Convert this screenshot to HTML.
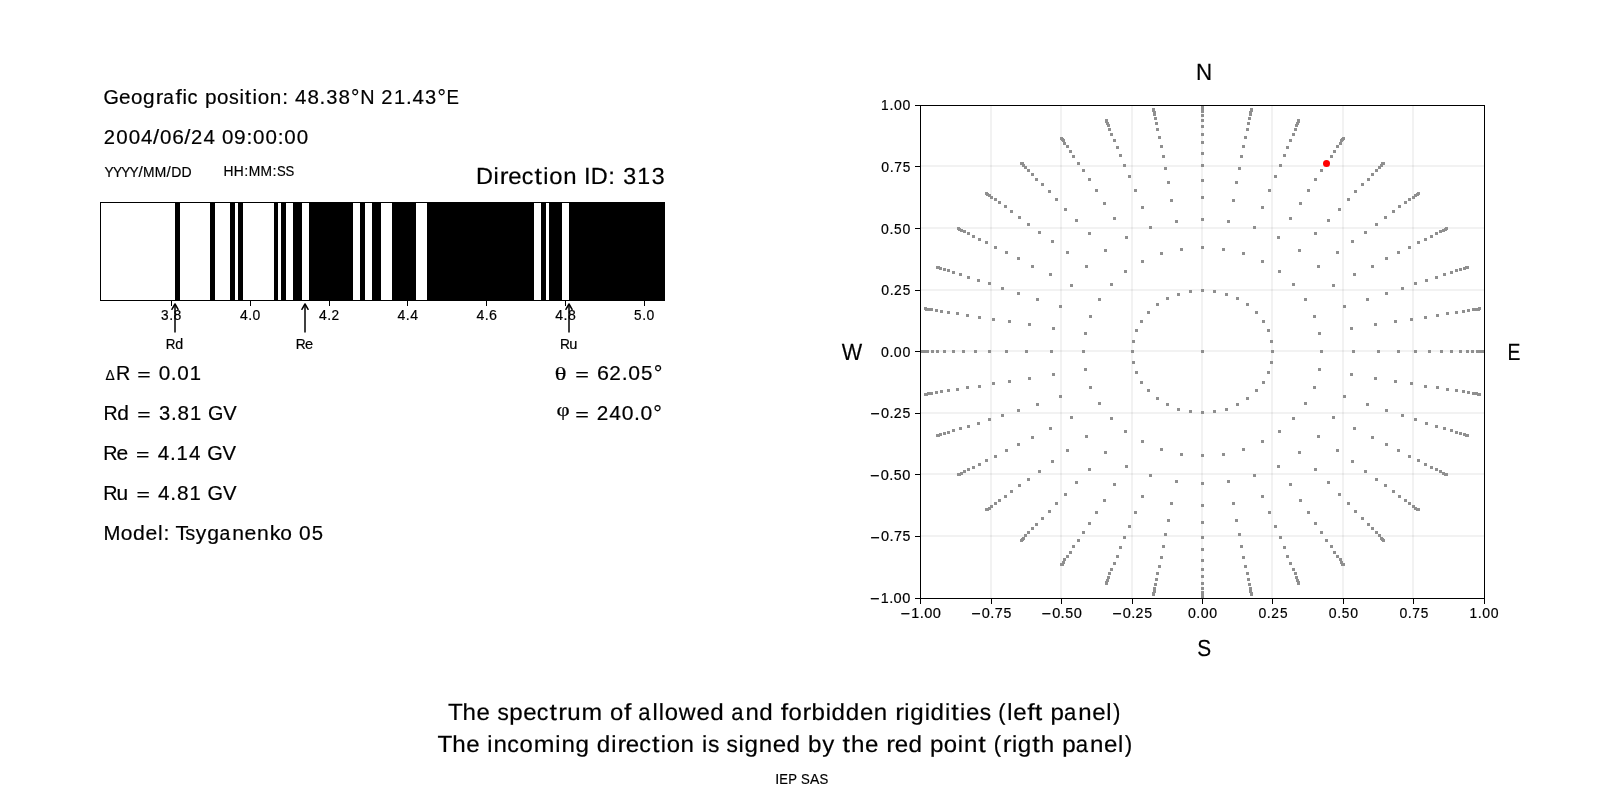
<!DOCTYPE html><html><head><meta charset="utf-8"><style>html,body{margin:0;padding:0;background:#fff;}svg{display:block;}text{font-kerning:none;}</style></head><body>
<svg width="1600" height="800" viewBox="0 0 1600 800">
<rect x="0" y="0" width="1600" height="800" fill="#fff"/>
<rect x="175" y="202" width="5" height="99" fill="#000"/>
<rect x="210" y="202" width="5" height="99" fill="#000"/>
<rect x="230" y="202" width="5" height="99" fill="#000"/>
<rect x="238" y="202" width="5" height="99" fill="#000"/>
<rect x="274" y="202" width="4" height="99" fill="#000"/>
<rect x="281" y="202" width="5" height="99" fill="#000"/>
<rect x="293" y="202" width="9" height="99" fill="#000"/>
<rect x="309" y="202" width="44" height="99" fill="#000"/>
<rect x="360" y="202" width="5" height="99" fill="#000"/>
<rect x="372" y="202" width="9" height="99" fill="#000"/>
<rect x="392" y="202" width="24" height="99" fill="#000"/>
<rect x="427" y="202" width="107" height="99" fill="#000"/>
<rect x="541" y="202" width="5" height="99" fill="#000"/>
<rect x="549" y="202" width="13" height="99" fill="#000"/>
<rect x="569" y="202" width="96" height="99" fill="#000"/>
<rect x="100" y="202" width="565" height="1" fill="#000"/>
<rect x="100" y="300" width="565" height="1" fill="#000"/>
<rect x="100" y="202" width="1" height="99" fill="#000"/>
<rect x="664" y="202" width="1" height="99" fill="#000"/>
<rect x="171" y="301" width="1" height="5" fill="#000"/>
<rect x="250" y="301" width="1" height="5" fill="#000"/>
<rect x="329" y="301" width="1" height="5" fill="#000"/>
<rect x="407" y="301" width="1" height="5" fill="#000"/>
<rect x="486" y="301" width="1" height="5" fill="#000"/>
<rect x="565" y="301" width="1" height="5" fill="#000"/>
<rect x="644" y="301" width="1" height="5" fill="#000"/>
<line x1="175.0" y1="305" x2="175.0" y2="332.5" stroke="#000" stroke-width="1.5"/>
<polyline points="171.90,309.3 175.00,304.0 178.10,309.3" fill="none" stroke="#000" stroke-width="1.5" stroke-linecap="round" stroke-linejoin="round"/>
<line x1="305.0" y1="305" x2="305.0" y2="332.5" stroke="#000" stroke-width="1.5"/>
<polyline points="301.90,309.3 305.00,304.0 308.10,309.3" fill="none" stroke="#000" stroke-width="1.5" stroke-linecap="round" stroke-linejoin="round"/>
<line x1="569.0" y1="305" x2="569.0" y2="332.5" stroke="#000" stroke-width="1.5"/>
<polyline points="565.90,309.3 569.00,304.0 572.10,309.3" fill="none" stroke="#000" stroke-width="1.5" stroke-linecap="round" stroke-linejoin="round"/>
<rect x="990" y="106" width="2" height="492" fill="#000" fill-opacity="0.052"/>
<rect x="921" y="535" width="563" height="2" fill="#000" fill-opacity="0.052"/>
<rect x="1060" y="106" width="2" height="492" fill="#000" fill-opacity="0.052"/>
<rect x="921" y="473" width="563" height="2" fill="#000" fill-opacity="0.052"/>
<rect x="1131" y="106" width="2" height="492" fill="#000" fill-opacity="0.052"/>
<rect x="921" y="412" width="563" height="2" fill="#000" fill-opacity="0.052"/>
<rect x="1201" y="106" width="2" height="492" fill="#000" fill-opacity="0.052"/>
<rect x="921" y="350" width="563" height="2" fill="#000" fill-opacity="0.052"/>
<rect x="1271" y="106" width="2" height="492" fill="#000" fill-opacity="0.052"/>
<rect x="921" y="289" width="563" height="2" fill="#000" fill-opacity="0.052"/>
<rect x="1342" y="106" width="2" height="492" fill="#000" fill-opacity="0.052"/>
<rect x="921" y="227" width="563" height="2" fill="#000" fill-opacity="0.052"/>
<rect x="1412" y="106" width="2" height="492" fill="#000" fill-opacity="0.052"/>
<rect x="921" y="165" width="563" height="2" fill="#000" fill-opacity="0.052"/>
<defs><clipPath id="axclip"><rect x="920" y="105" width="565" height="494"/></clipPath></defs><g clip-path="url(#axclip)">
<rect x="1201" y="350" width="3" height="3" fill="#8f8f8f"/>
<rect x="1271" y="350" width="3" height="3" fill="#8f8f8f"/>
<rect x="1270" y="340" width="3" height="3" fill="#8f8f8f"/>
<rect x="1267" y="329" width="3" height="3" fill="#8f8f8f"/>
<rect x="1262" y="320" width="3" height="3" fill="#8f8f8f"/>
<rect x="1255" y="311" width="3" height="3" fill="#8f8f8f"/>
<rect x="1246" y="303" width="3" height="3" fill="#8f8f8f"/>
<rect x="1236" y="297" width="3" height="3" fill="#8f8f8f"/>
<rect x="1225" y="293" width="3" height="3" fill="#8f8f8f"/>
<rect x="1213" y="290" width="3" height="3" fill="#8f8f8f"/>
<rect x="1201" y="289" width="3" height="3" fill="#8f8f8f"/>
<rect x="1189" y="290" width="3" height="3" fill="#8f8f8f"/>
<rect x="1177" y="293" width="3" height="3" fill="#8f8f8f"/>
<rect x="1166" y="297" width="3" height="3" fill="#8f8f8f"/>
<rect x="1156" y="303" width="3" height="3" fill="#8f8f8f"/>
<rect x="1147" y="311" width="3" height="3" fill="#8f8f8f"/>
<rect x="1140" y="320" width="3" height="3" fill="#8f8f8f"/>
<rect x="1135" y="329" width="3" height="3" fill="#8f8f8f"/>
<rect x="1132" y="340" width="3" height="3" fill="#8f8f8f"/>
<rect x="1131" y="350" width="3" height="3" fill="#8f8f8f"/>
<rect x="1132" y="361" width="3" height="3" fill="#8f8f8f"/>
<rect x="1135" y="371" width="3" height="3" fill="#8f8f8f"/>
<rect x="1140" y="381" width="3" height="3" fill="#8f8f8f"/>
<rect x="1147" y="389" width="3" height="3" fill="#8f8f8f"/>
<rect x="1156" y="397" width="3" height="3" fill="#8f8f8f"/>
<rect x="1166" y="403" width="3" height="3" fill="#8f8f8f"/>
<rect x="1177" y="408" width="3" height="3" fill="#8f8f8f"/>
<rect x="1189" y="410" width="3" height="3" fill="#8f8f8f"/>
<rect x="1201" y="411" width="3" height="3" fill="#8f8f8f"/>
<rect x="1213" y="410" width="3" height="3" fill="#8f8f8f"/>
<rect x="1225" y="408" width="3" height="3" fill="#8f8f8f"/>
<rect x="1236" y="403" width="3" height="3" fill="#8f8f8f"/>
<rect x="1246" y="397" width="3" height="3" fill="#8f8f8f"/>
<rect x="1255" y="389" width="3" height="3" fill="#8f8f8f"/>
<rect x="1262" y="381" width="3" height="3" fill="#8f8f8f"/>
<rect x="1267" y="371" width="3" height="3" fill="#8f8f8f"/>
<rect x="1270" y="361" width="3" height="3" fill="#8f8f8f"/>
<rect x="1320" y="350" width="3" height="3" fill="#8f8f8f"/>
<rect x="1318" y="332" width="3" height="3" fill="#8f8f8f"/>
<rect x="1313" y="315" width="3" height="3" fill="#8f8f8f"/>
<rect x="1304" y="298" width="3" height="3" fill="#8f8f8f"/>
<rect x="1292" y="283" width="3" height="3" fill="#8f8f8f"/>
<rect x="1278" y="270" width="3" height="3" fill="#8f8f8f"/>
<rect x="1261" y="260" width="3" height="3" fill="#8f8f8f"/>
<rect x="1242" y="252" width="3" height="3" fill="#8f8f8f"/>
<rect x="1222" y="248" width="3" height="3" fill="#8f8f8f"/>
<rect x="1201" y="246" width="3" height="3" fill="#8f8f8f"/>
<rect x="1180" y="248" width="3" height="3" fill="#8f8f8f"/>
<rect x="1160" y="252" width="3" height="3" fill="#8f8f8f"/>
<rect x="1141" y="260" width="3" height="3" fill="#8f8f8f"/>
<rect x="1124" y="270" width="3" height="3" fill="#8f8f8f"/>
<rect x="1110" y="283" width="3" height="3" fill="#8f8f8f"/>
<rect x="1098" y="298" width="3" height="3" fill="#8f8f8f"/>
<rect x="1089" y="315" width="3" height="3" fill="#8f8f8f"/>
<rect x="1084" y="332" width="3" height="3" fill="#8f8f8f"/>
<rect x="1082" y="350" width="3" height="3" fill="#8f8f8f"/>
<rect x="1084" y="368" width="3" height="3" fill="#8f8f8f"/>
<rect x="1089" y="386" width="3" height="3" fill="#8f8f8f"/>
<rect x="1098" y="402" width="3" height="3" fill="#8f8f8f"/>
<rect x="1110" y="417" width="3" height="3" fill="#8f8f8f"/>
<rect x="1124" y="430" width="3" height="3" fill="#8f8f8f"/>
<rect x="1141" y="440" width="3" height="3" fill="#8f8f8f"/>
<rect x="1160" y="448" width="3" height="3" fill="#8f8f8f"/>
<rect x="1180" y="453" width="3" height="3" fill="#8f8f8f"/>
<rect x="1201" y="454" width="3" height="3" fill="#8f8f8f"/>
<rect x="1222" y="453" width="3" height="3" fill="#8f8f8f"/>
<rect x="1242" y="448" width="3" height="3" fill="#8f8f8f"/>
<rect x="1261" y="440" width="3" height="3" fill="#8f8f8f"/>
<rect x="1278" y="430" width="3" height="3" fill="#8f8f8f"/>
<rect x="1292" y="417" width="3" height="3" fill="#8f8f8f"/>
<rect x="1304" y="402" width="3" height="3" fill="#8f8f8f"/>
<rect x="1313" y="386" width="3" height="3" fill="#8f8f8f"/>
<rect x="1318" y="368" width="3" height="3" fill="#8f8f8f"/>
<rect x="1352" y="350" width="3" height="3" fill="#8f8f8f"/>
<rect x="1350" y="327" width="3" height="3" fill="#8f8f8f"/>
<rect x="1343" y="305" width="3" height="3" fill="#8f8f8f"/>
<rect x="1332" y="284" width="3" height="3" fill="#8f8f8f"/>
<rect x="1317" y="265" width="3" height="3" fill="#8f8f8f"/>
<rect x="1298" y="249" width="3" height="3" fill="#8f8f8f"/>
<rect x="1277" y="236" width="3" height="3" fill="#8f8f8f"/>
<rect x="1253" y="226" width="3" height="3" fill="#8f8f8f"/>
<rect x="1227" y="220" width="3" height="3" fill="#8f8f8f"/>
<rect x="1201" y="218" width="3" height="3" fill="#8f8f8f"/>
<rect x="1175" y="220" width="3" height="3" fill="#8f8f8f"/>
<rect x="1149" y="226" width="3" height="3" fill="#8f8f8f"/>
<rect x="1125" y="236" width="3" height="3" fill="#8f8f8f"/>
<rect x="1104" y="249" width="3" height="3" fill="#8f8f8f"/>
<rect x="1085" y="265" width="3" height="3" fill="#8f8f8f"/>
<rect x="1070" y="284" width="3" height="3" fill="#8f8f8f"/>
<rect x="1059" y="305" width="3" height="3" fill="#8f8f8f"/>
<rect x="1052" y="327" width="3" height="3" fill="#8f8f8f"/>
<rect x="1050" y="350" width="3" height="3" fill="#8f8f8f"/>
<rect x="1052" y="373" width="3" height="3" fill="#8f8f8f"/>
<rect x="1059" y="395" width="3" height="3" fill="#8f8f8f"/>
<rect x="1070" y="416" width="3" height="3" fill="#8f8f8f"/>
<rect x="1085" y="435" width="3" height="3" fill="#8f8f8f"/>
<rect x="1104" y="451" width="3" height="3" fill="#8f8f8f"/>
<rect x="1125" y="465" width="3" height="3" fill="#8f8f8f"/>
<rect x="1149" y="474" width="3" height="3" fill="#8f8f8f"/>
<rect x="1175" y="480" width="3" height="3" fill="#8f8f8f"/>
<rect x="1201" y="482" width="3" height="3" fill="#8f8f8f"/>
<rect x="1227" y="480" width="3" height="3" fill="#8f8f8f"/>
<rect x="1253" y="474" width="3" height="3" fill="#8f8f8f"/>
<rect x="1277" y="465" width="3" height="3" fill="#8f8f8f"/>
<rect x="1298" y="451" width="3" height="3" fill="#8f8f8f"/>
<rect x="1317" y="435" width="3" height="3" fill="#8f8f8f"/>
<rect x="1332" y="416" width="3" height="3" fill="#8f8f8f"/>
<rect x="1343" y="395" width="3" height="3" fill="#8f8f8f"/>
<rect x="1350" y="373" width="3" height="3" fill="#8f8f8f"/>
<rect x="1377" y="350" width="3" height="3" fill="#8f8f8f"/>
<rect x="1374" y="323" width="3" height="3" fill="#8f8f8f"/>
<rect x="1366" y="298" width="3" height="3" fill="#8f8f8f"/>
<rect x="1353" y="273" width="3" height="3" fill="#8f8f8f"/>
<rect x="1336" y="251" width="3" height="3" fill="#8f8f8f"/>
<rect x="1314" y="232" width="3" height="3" fill="#8f8f8f"/>
<rect x="1289" y="217" width="3" height="3" fill="#8f8f8f"/>
<rect x="1261" y="206" width="3" height="3" fill="#8f8f8f"/>
<rect x="1232" y="199" width="3" height="3" fill="#8f8f8f"/>
<rect x="1201" y="196" width="3" height="3" fill="#8f8f8f"/>
<rect x="1170" y="199" width="3" height="3" fill="#8f8f8f"/>
<rect x="1141" y="206" width="3" height="3" fill="#8f8f8f"/>
<rect x="1113" y="217" width="3" height="3" fill="#8f8f8f"/>
<rect x="1088" y="232" width="3" height="3" fill="#8f8f8f"/>
<rect x="1066" y="251" width="3" height="3" fill="#8f8f8f"/>
<rect x="1049" y="273" width="3" height="3" fill="#8f8f8f"/>
<rect x="1036" y="298" width="3" height="3" fill="#8f8f8f"/>
<rect x="1028" y="323" width="3" height="3" fill="#8f8f8f"/>
<rect x="1025" y="350" width="3" height="3" fill="#8f8f8f"/>
<rect x="1028" y="377" width="3" height="3" fill="#8f8f8f"/>
<rect x="1036" y="403" width="3" height="3" fill="#8f8f8f"/>
<rect x="1049" y="427" width="3" height="3" fill="#8f8f8f"/>
<rect x="1066" y="449" width="3" height="3" fill="#8f8f8f"/>
<rect x="1088" y="468" width="3" height="3" fill="#8f8f8f"/>
<rect x="1113" y="483" width="3" height="3" fill="#8f8f8f"/>
<rect x="1141" y="495" width="3" height="3" fill="#8f8f8f"/>
<rect x="1170" y="502" width="3" height="3" fill="#8f8f8f"/>
<rect x="1201" y="504" width="3" height="3" fill="#8f8f8f"/>
<rect x="1232" y="502" width="3" height="3" fill="#8f8f8f"/>
<rect x="1261" y="495" width="3" height="3" fill="#8f8f8f"/>
<rect x="1289" y="483" width="3" height="3" fill="#8f8f8f"/>
<rect x="1314" y="468" width="3" height="3" fill="#8f8f8f"/>
<rect x="1336" y="449" width="3" height="3" fill="#8f8f8f"/>
<rect x="1353" y="427" width="3" height="3" fill="#8f8f8f"/>
<rect x="1366" y="403" width="3" height="3" fill="#8f8f8f"/>
<rect x="1374" y="377" width="3" height="3" fill="#8f8f8f"/>
<rect x="1397" y="350" width="3" height="3" fill="#8f8f8f"/>
<rect x="1394" y="320" width="3" height="3" fill="#8f8f8f"/>
<rect x="1385" y="292" width="3" height="3" fill="#8f8f8f"/>
<rect x="1371" y="265" width="3" height="3" fill="#8f8f8f"/>
<rect x="1351" y="240" width="3" height="3" fill="#8f8f8f"/>
<rect x="1327" y="219" width="3" height="3" fill="#8f8f8f"/>
<rect x="1299" y="202" width="3" height="3" fill="#8f8f8f"/>
<rect x="1268" y="189" width="3" height="3" fill="#8f8f8f"/>
<rect x="1235" y="181" width="3" height="3" fill="#8f8f8f"/>
<rect x="1201" y="179" width="3" height="3" fill="#8f8f8f"/>
<rect x="1167" y="181" width="3" height="3" fill="#8f8f8f"/>
<rect x="1134" y="189" width="3" height="3" fill="#8f8f8f"/>
<rect x="1103" y="202" width="3" height="3" fill="#8f8f8f"/>
<rect x="1075" y="219" width="3" height="3" fill="#8f8f8f"/>
<rect x="1051" y="240" width="3" height="3" fill="#8f8f8f"/>
<rect x="1031" y="265" width="3" height="3" fill="#8f8f8f"/>
<rect x="1017" y="292" width="3" height="3" fill="#8f8f8f"/>
<rect x="1008" y="320" width="3" height="3" fill="#8f8f8f"/>
<rect x="1005" y="350" width="3" height="3" fill="#8f8f8f"/>
<rect x="1008" y="380" width="3" height="3" fill="#8f8f8f"/>
<rect x="1017" y="409" width="3" height="3" fill="#8f8f8f"/>
<rect x="1031" y="436" width="3" height="3" fill="#8f8f8f"/>
<rect x="1051" y="460" width="3" height="3" fill="#8f8f8f"/>
<rect x="1075" y="481" width="3" height="3" fill="#8f8f8f"/>
<rect x="1103" y="499" width="3" height="3" fill="#8f8f8f"/>
<rect x="1134" y="511" width="3" height="3" fill="#8f8f8f"/>
<rect x="1167" y="519" width="3" height="3" fill="#8f8f8f"/>
<rect x="1201" y="521" width="3" height="3" fill="#8f8f8f"/>
<rect x="1235" y="519" width="3" height="3" fill="#8f8f8f"/>
<rect x="1268" y="511" width="3" height="3" fill="#8f8f8f"/>
<rect x="1299" y="499" width="3" height="3" fill="#8f8f8f"/>
<rect x="1327" y="481" width="3" height="3" fill="#8f8f8f"/>
<rect x="1351" y="460" width="3" height="3" fill="#8f8f8f"/>
<rect x="1371" y="436" width="3" height="3" fill="#8f8f8f"/>
<rect x="1385" y="409" width="3" height="3" fill="#8f8f8f"/>
<rect x="1394" y="380" width="3" height="3" fill="#8f8f8f"/>
<rect x="1414" y="350" width="3" height="3" fill="#8f8f8f"/>
<rect x="1410" y="318" width="3" height="3" fill="#8f8f8f"/>
<rect x="1401" y="287" width="3" height="3" fill="#8f8f8f"/>
<rect x="1385" y="257" width="3" height="3" fill="#8f8f8f"/>
<rect x="1364" y="231" width="3" height="3" fill="#8f8f8f"/>
<rect x="1338" y="208" width="3" height="3" fill="#8f8f8f"/>
<rect x="1307" y="189" width="3" height="3" fill="#8f8f8f"/>
<rect x="1274" y="175" width="3" height="3" fill="#8f8f8f"/>
<rect x="1238" y="167" width="3" height="3" fill="#8f8f8f"/>
<rect x="1201" y="164" width="3" height="3" fill="#8f8f8f"/>
<rect x="1164" y="167" width="3" height="3" fill="#8f8f8f"/>
<rect x="1128" y="175" width="3" height="3" fill="#8f8f8f"/>
<rect x="1095" y="189" width="3" height="3" fill="#8f8f8f"/>
<rect x="1064" y="208" width="3" height="3" fill="#8f8f8f"/>
<rect x="1038" y="231" width="3" height="3" fill="#8f8f8f"/>
<rect x="1017" y="257" width="3" height="3" fill="#8f8f8f"/>
<rect x="1001" y="287" width="3" height="3" fill="#8f8f8f"/>
<rect x="992" y="318" width="3" height="3" fill="#8f8f8f"/>
<rect x="988" y="350" width="3" height="3" fill="#8f8f8f"/>
<rect x="992" y="382" width="3" height="3" fill="#8f8f8f"/>
<rect x="1001" y="414" width="3" height="3" fill="#8f8f8f"/>
<rect x="1017" y="443" width="3" height="3" fill="#8f8f8f"/>
<rect x="1038" y="470" width="3" height="3" fill="#8f8f8f"/>
<rect x="1064" y="493" width="3" height="3" fill="#8f8f8f"/>
<rect x="1095" y="511" width="3" height="3" fill="#8f8f8f"/>
<rect x="1128" y="525" width="3" height="3" fill="#8f8f8f"/>
<rect x="1164" y="533" width="3" height="3" fill="#8f8f8f"/>
<rect x="1201" y="536" width="3" height="3" fill="#8f8f8f"/>
<rect x="1238" y="533" width="3" height="3" fill="#8f8f8f"/>
<rect x="1274" y="525" width="3" height="3" fill="#8f8f8f"/>
<rect x="1307" y="511" width="3" height="3" fill="#8f8f8f"/>
<rect x="1338" y="493" width="3" height="3" fill="#8f8f8f"/>
<rect x="1364" y="470" width="3" height="3" fill="#8f8f8f"/>
<rect x="1385" y="443" width="3" height="3" fill="#8f8f8f"/>
<rect x="1401" y="414" width="3" height="3" fill="#8f8f8f"/>
<rect x="1410" y="382" width="3" height="3" fill="#8f8f8f"/>
<rect x="1428" y="350" width="3" height="3" fill="#8f8f8f"/>
<rect x="1424" y="316" width="3" height="3" fill="#8f8f8f"/>
<rect x="1414" y="282" width="3" height="3" fill="#8f8f8f"/>
<rect x="1397" y="251" width="3" height="3" fill="#8f8f8f"/>
<rect x="1375" y="223" width="3" height="3" fill="#8f8f8f"/>
<rect x="1347" y="198" width="3" height="3" fill="#8f8f8f"/>
<rect x="1314" y="178" width="3" height="3" fill="#8f8f8f"/>
<rect x="1279" y="164" width="3" height="3" fill="#8f8f8f"/>
<rect x="1240" y="155" width="3" height="3" fill="#8f8f8f"/>
<rect x="1201" y="152" width="3" height="3" fill="#8f8f8f"/>
<rect x="1162" y="155" width="3" height="3" fill="#8f8f8f"/>
<rect x="1123" y="164" width="3" height="3" fill="#8f8f8f"/>
<rect x="1088" y="178" width="3" height="3" fill="#8f8f8f"/>
<rect x="1055" y="198" width="3" height="3" fill="#8f8f8f"/>
<rect x="1027" y="223" width="3" height="3" fill="#8f8f8f"/>
<rect x="1005" y="251" width="3" height="3" fill="#8f8f8f"/>
<rect x="988" y="282" width="3" height="3" fill="#8f8f8f"/>
<rect x="978" y="316" width="3" height="3" fill="#8f8f8f"/>
<rect x="974" y="350" width="3" height="3" fill="#8f8f8f"/>
<rect x="978" y="385" width="3" height="3" fill="#8f8f8f"/>
<rect x="988" y="418" width="3" height="3" fill="#8f8f8f"/>
<rect x="1005" y="449" width="3" height="3" fill="#8f8f8f"/>
<rect x="1027" y="478" width="3" height="3" fill="#8f8f8f"/>
<rect x="1055" y="502" width="3" height="3" fill="#8f8f8f"/>
<rect x="1088" y="522" width="3" height="3" fill="#8f8f8f"/>
<rect x="1123" y="536" width="3" height="3" fill="#8f8f8f"/>
<rect x="1162" y="545" width="3" height="3" fill="#8f8f8f"/>
<rect x="1201" y="548" width="3" height="3" fill="#8f8f8f"/>
<rect x="1240" y="545" width="3" height="3" fill="#8f8f8f"/>
<rect x="1279" y="536" width="3" height="3" fill="#8f8f8f"/>
<rect x="1314" y="522" width="3" height="3" fill="#8f8f8f"/>
<rect x="1347" y="502" width="3" height="3" fill="#8f8f8f"/>
<rect x="1375" y="478" width="3" height="3" fill="#8f8f8f"/>
<rect x="1397" y="449" width="3" height="3" fill="#8f8f8f"/>
<rect x="1414" y="418" width="3" height="3" fill="#8f8f8f"/>
<rect x="1424" y="385" width="3" height="3" fill="#8f8f8f"/>
<rect x="1440" y="350" width="3" height="3" fill="#8f8f8f"/>
<rect x="1436" y="314" width="3" height="3" fill="#8f8f8f"/>
<rect x="1425" y="279" width="3" height="3" fill="#8f8f8f"/>
<rect x="1408" y="246" width="3" height="3" fill="#8f8f8f"/>
<rect x="1384" y="216" width="3" height="3" fill="#8f8f8f"/>
<rect x="1354" y="190" width="3" height="3" fill="#8f8f8f"/>
<rect x="1320" y="169" width="3" height="3" fill="#8f8f8f"/>
<rect x="1283" y="154" width="3" height="3" fill="#8f8f8f"/>
<rect x="1242" y="145" width="3" height="3" fill="#8f8f8f"/>
<rect x="1201" y="141" width="3" height="3" fill="#8f8f8f"/>
<rect x="1160" y="145" width="3" height="3" fill="#8f8f8f"/>
<rect x="1119" y="154" width="3" height="3" fill="#8f8f8f"/>
<rect x="1082" y="169" width="3" height="3" fill="#8f8f8f"/>
<rect x="1048" y="190" width="3" height="3" fill="#8f8f8f"/>
<rect x="1018" y="216" width="3" height="3" fill="#8f8f8f"/>
<rect x="994" y="246" width="3" height="3" fill="#8f8f8f"/>
<rect x="977" y="279" width="3" height="3" fill="#8f8f8f"/>
<rect x="966" y="314" width="3" height="3" fill="#8f8f8f"/>
<rect x="962" y="350" width="3" height="3" fill="#8f8f8f"/>
<rect x="966" y="386" width="3" height="3" fill="#8f8f8f"/>
<rect x="977" y="422" width="3" height="3" fill="#8f8f8f"/>
<rect x="994" y="455" width="3" height="3" fill="#8f8f8f"/>
<rect x="1018" y="484" width="3" height="3" fill="#8f8f8f"/>
<rect x="1048" y="510" width="3" height="3" fill="#8f8f8f"/>
<rect x="1082" y="531" width="3" height="3" fill="#8f8f8f"/>
<rect x="1119" y="546" width="3" height="3" fill="#8f8f8f"/>
<rect x="1160" y="556" width="3" height="3" fill="#8f8f8f"/>
<rect x="1201" y="559" width="3" height="3" fill="#8f8f8f"/>
<rect x="1242" y="556" width="3" height="3" fill="#8f8f8f"/>
<rect x="1283" y="546" width="3" height="3" fill="#8f8f8f"/>
<rect x="1320" y="531" width="3" height="3" fill="#8f8f8f"/>
<rect x="1354" y="510" width="3" height="3" fill="#8f8f8f"/>
<rect x="1384" y="484" width="3" height="3" fill="#8f8f8f"/>
<rect x="1408" y="455" width="3" height="3" fill="#8f8f8f"/>
<rect x="1425" y="422" width="3" height="3" fill="#8f8f8f"/>
<rect x="1436" y="386" width="3" height="3" fill="#8f8f8f"/>
<rect x="1450" y="350" width="3" height="3" fill="#8f8f8f"/>
<rect x="1446" y="312" width="3" height="3" fill="#8f8f8f"/>
<rect x="1435" y="276" width="3" height="3" fill="#8f8f8f"/>
<rect x="1417" y="241" width="3" height="3" fill="#8f8f8f"/>
<rect x="1392" y="210" width="3" height="3" fill="#8f8f8f"/>
<rect x="1361" y="183" width="3" height="3" fill="#8f8f8f"/>
<rect x="1325" y="162" width="3" height="3" fill="#8f8f8f"/>
<rect x="1286" y="146" width="3" height="3" fill="#8f8f8f"/>
<rect x="1244" y="136" width="3" height="3" fill="#8f8f8f"/>
<rect x="1201" y="133" width="3" height="3" fill="#8f8f8f"/>
<rect x="1158" y="136" width="3" height="3" fill="#8f8f8f"/>
<rect x="1116" y="146" width="3" height="3" fill="#8f8f8f"/>
<rect x="1077" y="162" width="3" height="3" fill="#8f8f8f"/>
<rect x="1041" y="183" width="3" height="3" fill="#8f8f8f"/>
<rect x="1010" y="210" width="3" height="3" fill="#8f8f8f"/>
<rect x="985" y="241" width="3" height="3" fill="#8f8f8f"/>
<rect x="967" y="276" width="3" height="3" fill="#8f8f8f"/>
<rect x="956" y="312" width="3" height="3" fill="#8f8f8f"/>
<rect x="952" y="350" width="3" height="3" fill="#8f8f8f"/>
<rect x="956" y="388" width="3" height="3" fill="#8f8f8f"/>
<rect x="967" y="425" width="3" height="3" fill="#8f8f8f"/>
<rect x="985" y="459" width="3" height="3" fill="#8f8f8f"/>
<rect x="1010" y="490" width="3" height="3" fill="#8f8f8f"/>
<rect x="1041" y="517" width="3" height="3" fill="#8f8f8f"/>
<rect x="1077" y="539" width="3" height="3" fill="#8f8f8f"/>
<rect x="1116" y="555" width="3" height="3" fill="#8f8f8f"/>
<rect x="1158" y="565" width="3" height="3" fill="#8f8f8f"/>
<rect x="1201" y="568" width="3" height="3" fill="#8f8f8f"/>
<rect x="1244" y="565" width="3" height="3" fill="#8f8f8f"/>
<rect x="1286" y="555" width="3" height="3" fill="#8f8f8f"/>
<rect x="1325" y="539" width="3" height="3" fill="#8f8f8f"/>
<rect x="1361" y="517" width="3" height="3" fill="#8f8f8f"/>
<rect x="1392" y="490" width="3" height="3" fill="#8f8f8f"/>
<rect x="1417" y="459" width="3" height="3" fill="#8f8f8f"/>
<rect x="1435" y="425" width="3" height="3" fill="#8f8f8f"/>
<rect x="1446" y="388" width="3" height="3" fill="#8f8f8f"/>
<rect x="1459" y="350" width="3" height="3" fill="#8f8f8f"/>
<rect x="1455" y="311" width="3" height="3" fill="#8f8f8f"/>
<rect x="1443" y="273" width="3" height="3" fill="#8f8f8f"/>
<rect x="1424" y="238" width="3" height="3" fill="#8f8f8f"/>
<rect x="1398" y="205" width="3" height="3" fill="#8f8f8f"/>
<rect x="1367" y="178" width="3" height="3" fill="#8f8f8f"/>
<rect x="1330" y="155" width="3" height="3" fill="#8f8f8f"/>
<rect x="1289" y="139" width="3" height="3" fill="#8f8f8f"/>
<rect x="1246" y="128" width="3" height="3" fill="#8f8f8f"/>
<rect x="1201" y="125" width="3" height="3" fill="#8f8f8f"/>
<rect x="1156" y="128" width="3" height="3" fill="#8f8f8f"/>
<rect x="1113" y="139" width="3" height="3" fill="#8f8f8f"/>
<rect x="1072" y="155" width="3" height="3" fill="#8f8f8f"/>
<rect x="1035" y="178" width="3" height="3" fill="#8f8f8f"/>
<rect x="1004" y="205" width="3" height="3" fill="#8f8f8f"/>
<rect x="978" y="238" width="3" height="3" fill="#8f8f8f"/>
<rect x="959" y="273" width="3" height="3" fill="#8f8f8f"/>
<rect x="947" y="311" width="3" height="3" fill="#8f8f8f"/>
<rect x="943" y="350" width="3" height="3" fill="#8f8f8f"/>
<rect x="947" y="389" width="3" height="3" fill="#8f8f8f"/>
<rect x="959" y="427" width="3" height="3" fill="#8f8f8f"/>
<rect x="978" y="463" width="3" height="3" fill="#8f8f8f"/>
<rect x="1004" y="495" width="3" height="3" fill="#8f8f8f"/>
<rect x="1035" y="523" width="3" height="3" fill="#8f8f8f"/>
<rect x="1072" y="545" width="3" height="3" fill="#8f8f8f"/>
<rect x="1113" y="562" width="3" height="3" fill="#8f8f8f"/>
<rect x="1156" y="572" width="3" height="3" fill="#8f8f8f"/>
<rect x="1201" y="575" width="3" height="3" fill="#8f8f8f"/>
<rect x="1246" y="572" width="3" height="3" fill="#8f8f8f"/>
<rect x="1289" y="562" width="3" height="3" fill="#8f8f8f"/>
<rect x="1330" y="545" width="3" height="3" fill="#8f8f8f"/>
<rect x="1367" y="523" width="3" height="3" fill="#8f8f8f"/>
<rect x="1398" y="495" width="3" height="3" fill="#8f8f8f"/>
<rect x="1424" y="463" width="3" height="3" fill="#8f8f8f"/>
<rect x="1443" y="427" width="3" height="3" fill="#8f8f8f"/>
<rect x="1455" y="389" width="3" height="3" fill="#8f8f8f"/>
<rect x="1466" y="350" width="3" height="3" fill="#8f8f8f"/>
<rect x="1462" y="310" width="3" height="3" fill="#8f8f8f"/>
<rect x="1450" y="271" width="3" height="3" fill="#8f8f8f"/>
<rect x="1430" y="235" width="3" height="3" fill="#8f8f8f"/>
<rect x="1404" y="201" width="3" height="3" fill="#8f8f8f"/>
<rect x="1371" y="173" width="3" height="3" fill="#8f8f8f"/>
<rect x="1333" y="150" width="3" height="3" fill="#8f8f8f"/>
<rect x="1292" y="133" width="3" height="3" fill="#8f8f8f"/>
<rect x="1247" y="122" width="3" height="3" fill="#8f8f8f"/>
<rect x="1201" y="119" width="3" height="3" fill="#8f8f8f"/>
<rect x="1155" y="122" width="3" height="3" fill="#8f8f8f"/>
<rect x="1110" y="133" width="3" height="3" fill="#8f8f8f"/>
<rect x="1069" y="150" width="3" height="3" fill="#8f8f8f"/>
<rect x="1031" y="173" width="3" height="3" fill="#8f8f8f"/>
<rect x="998" y="201" width="3" height="3" fill="#8f8f8f"/>
<rect x="972" y="235" width="3" height="3" fill="#8f8f8f"/>
<rect x="952" y="271" width="3" height="3" fill="#8f8f8f"/>
<rect x="940" y="310" width="3" height="3" fill="#8f8f8f"/>
<rect x="936" y="350" width="3" height="3" fill="#8f8f8f"/>
<rect x="940" y="390" width="3" height="3" fill="#8f8f8f"/>
<rect x="952" y="429" width="3" height="3" fill="#8f8f8f"/>
<rect x="972" y="466" width="3" height="3" fill="#8f8f8f"/>
<rect x="998" y="499" width="3" height="3" fill="#8f8f8f"/>
<rect x="1031" y="527" width="3" height="3" fill="#8f8f8f"/>
<rect x="1069" y="551" width="3" height="3" fill="#8f8f8f"/>
<rect x="1110" y="568" width="3" height="3" fill="#8f8f8f"/>
<rect x="1155" y="578" width="3" height="3" fill="#8f8f8f"/>
<rect x="1201" y="582" width="3" height="3" fill="#8f8f8f"/>
<rect x="1247" y="578" width="3" height="3" fill="#8f8f8f"/>
<rect x="1292" y="568" width="3" height="3" fill="#8f8f8f"/>
<rect x="1333" y="551" width="3" height="3" fill="#8f8f8f"/>
<rect x="1371" y="527" width="3" height="3" fill="#8f8f8f"/>
<rect x="1404" y="499" width="3" height="3" fill="#8f8f8f"/>
<rect x="1430" y="466" width="3" height="3" fill="#8f8f8f"/>
<rect x="1450" y="429" width="3" height="3" fill="#8f8f8f"/>
<rect x="1462" y="390" width="3" height="3" fill="#8f8f8f"/>
<rect x="1471" y="350" width="3" height="3" fill="#8f8f8f"/>
<rect x="1467" y="309" width="3" height="3" fill="#8f8f8f"/>
<rect x="1455" y="269" width="3" height="3" fill="#8f8f8f"/>
<rect x="1435" y="232" width="3" height="3" fill="#8f8f8f"/>
<rect x="1408" y="198" width="3" height="3" fill="#8f8f8f"/>
<rect x="1375" y="169" width="3" height="3" fill="#8f8f8f"/>
<rect x="1336" y="145" width="3" height="3" fill="#8f8f8f"/>
<rect x="1294" y="128" width="3" height="3" fill="#8f8f8f"/>
<rect x="1248" y="117" width="3" height="3" fill="#8f8f8f"/>
<rect x="1201" y="114" width="3" height="3" fill="#8f8f8f"/>
<rect x="1154" y="117" width="3" height="3" fill="#8f8f8f"/>
<rect x="1108" y="128" width="3" height="3" fill="#8f8f8f"/>
<rect x="1066" y="145" width="3" height="3" fill="#8f8f8f"/>
<rect x="1027" y="169" width="3" height="3" fill="#8f8f8f"/>
<rect x="994" y="198" width="3" height="3" fill="#8f8f8f"/>
<rect x="967" y="232" width="3" height="3" fill="#8f8f8f"/>
<rect x="947" y="269" width="3" height="3" fill="#8f8f8f"/>
<rect x="935" y="309" width="3" height="3" fill="#8f8f8f"/>
<rect x="931" y="350" width="3" height="3" fill="#8f8f8f"/>
<rect x="935" y="391" width="3" height="3" fill="#8f8f8f"/>
<rect x="947" y="431" width="3" height="3" fill="#8f8f8f"/>
<rect x="967" y="468" width="3" height="3" fill="#8f8f8f"/>
<rect x="994" y="502" width="3" height="3" fill="#8f8f8f"/>
<rect x="1027" y="531" width="3" height="3" fill="#8f8f8f"/>
<rect x="1066" y="555" width="3" height="3" fill="#8f8f8f"/>
<rect x="1108" y="572" width="3" height="3" fill="#8f8f8f"/>
<rect x="1154" y="583" width="3" height="3" fill="#8f8f8f"/>
<rect x="1201" y="587" width="3" height="3" fill="#8f8f8f"/>
<rect x="1248" y="583" width="3" height="3" fill="#8f8f8f"/>
<rect x="1294" y="572" width="3" height="3" fill="#8f8f8f"/>
<rect x="1336" y="555" width="3" height="3" fill="#8f8f8f"/>
<rect x="1375" y="531" width="3" height="3" fill="#8f8f8f"/>
<rect x="1408" y="502" width="3" height="3" fill="#8f8f8f"/>
<rect x="1435" y="468" width="3" height="3" fill="#8f8f8f"/>
<rect x="1455" y="431" width="3" height="3" fill="#8f8f8f"/>
<rect x="1467" y="391" width="3" height="3" fill="#8f8f8f"/>
<rect x="1476" y="350" width="3" height="3" fill="#8f8f8f"/>
<rect x="1472" y="308" width="3" height="3" fill="#8f8f8f"/>
<rect x="1459" y="268" width="3" height="3" fill="#8f8f8f"/>
<rect x="1439" y="230" width="3" height="3" fill="#8f8f8f"/>
<rect x="1412" y="196" width="3" height="3" fill="#8f8f8f"/>
<rect x="1378" y="166" width="3" height="3" fill="#8f8f8f"/>
<rect x="1339" y="142" width="3" height="3" fill="#8f8f8f"/>
<rect x="1295" y="124" width="3" height="3" fill="#8f8f8f"/>
<rect x="1249" y="113" width="3" height="3" fill="#8f8f8f"/>
<rect x="1201" y="110" width="3" height="3" fill="#8f8f8f"/>
<rect x="1153" y="113" width="3" height="3" fill="#8f8f8f"/>
<rect x="1107" y="124" width="3" height="3" fill="#8f8f8f"/>
<rect x="1063" y="142" width="3" height="3" fill="#8f8f8f"/>
<rect x="1024" y="166" width="3" height="3" fill="#8f8f8f"/>
<rect x="990" y="196" width="3" height="3" fill="#8f8f8f"/>
<rect x="963" y="230" width="3" height="3" fill="#8f8f8f"/>
<rect x="943" y="268" width="3" height="3" fill="#8f8f8f"/>
<rect x="930" y="308" width="3" height="3" fill="#8f8f8f"/>
<rect x="926" y="350" width="3" height="3" fill="#8f8f8f"/>
<rect x="930" y="392" width="3" height="3" fill="#8f8f8f"/>
<rect x="943" y="432" width="3" height="3" fill="#8f8f8f"/>
<rect x="963" y="470" width="3" height="3" fill="#8f8f8f"/>
<rect x="990" y="505" width="3" height="3" fill="#8f8f8f"/>
<rect x="1024" y="534" width="3" height="3" fill="#8f8f8f"/>
<rect x="1063" y="558" width="3" height="3" fill="#8f8f8f"/>
<rect x="1107" y="576" width="3" height="3" fill="#8f8f8f"/>
<rect x="1153" y="587" width="3" height="3" fill="#8f8f8f"/>
<rect x="1201" y="591" width="3" height="3" fill="#8f8f8f"/>
<rect x="1249" y="587" width="3" height="3" fill="#8f8f8f"/>
<rect x="1295" y="576" width="3" height="3" fill="#8f8f8f"/>
<rect x="1339" y="558" width="3" height="3" fill="#8f8f8f"/>
<rect x="1378" y="534" width="3" height="3" fill="#8f8f8f"/>
<rect x="1412" y="505" width="3" height="3" fill="#8f8f8f"/>
<rect x="1439" y="470" width="3" height="3" fill="#8f8f8f"/>
<rect x="1459" y="432" width="3" height="3" fill="#8f8f8f"/>
<rect x="1472" y="392" width="3" height="3" fill="#8f8f8f"/>
<rect x="1479" y="350" width="3" height="3" fill="#8f8f8f"/>
<rect x="1475" y="308" width="3" height="3" fill="#8f8f8f"/>
<rect x="1463" y="267" width="3" height="3" fill="#8f8f8f"/>
<rect x="1442" y="229" width="3" height="3" fill="#8f8f8f"/>
<rect x="1414" y="194" width="3" height="3" fill="#8f8f8f"/>
<rect x="1380" y="164" width="3" height="3" fill="#8f8f8f"/>
<rect x="1340" y="139" width="3" height="3" fill="#8f8f8f"/>
<rect x="1296" y="122" width="3" height="3" fill="#8f8f8f"/>
<rect x="1249" y="111" width="3" height="3" fill="#8f8f8f"/>
<rect x="1201" y="107" width="3" height="3" fill="#8f8f8f"/>
<rect x="1153" y="111" width="3" height="3" fill="#8f8f8f"/>
<rect x="1106" y="122" width="3" height="3" fill="#8f8f8f"/>
<rect x="1062" y="139" width="3" height="3" fill="#8f8f8f"/>
<rect x="1022" y="164" width="3" height="3" fill="#8f8f8f"/>
<rect x="988" y="194" width="3" height="3" fill="#8f8f8f"/>
<rect x="960" y="229" width="3" height="3" fill="#8f8f8f"/>
<rect x="939" y="267" width="3" height="3" fill="#8f8f8f"/>
<rect x="927" y="308" width="3" height="3" fill="#8f8f8f"/>
<rect x="923" y="350" width="3" height="3" fill="#8f8f8f"/>
<rect x="927" y="392" width="3" height="3" fill="#8f8f8f"/>
<rect x="939" y="433" width="3" height="3" fill="#8f8f8f"/>
<rect x="960" y="472" width="3" height="3" fill="#8f8f8f"/>
<rect x="988" y="507" width="3" height="3" fill="#8f8f8f"/>
<rect x="1022" y="537" width="3" height="3" fill="#8f8f8f"/>
<rect x="1062" y="561" width="3" height="3" fill="#8f8f8f"/>
<rect x="1106" y="579" width="3" height="3" fill="#8f8f8f"/>
<rect x="1153" y="590" width="3" height="3" fill="#8f8f8f"/>
<rect x="1201" y="594" width="3" height="3" fill="#8f8f8f"/>
<rect x="1249" y="590" width="3" height="3" fill="#8f8f8f"/>
<rect x="1296" y="579" width="3" height="3" fill="#8f8f8f"/>
<rect x="1340" y="561" width="3" height="3" fill="#8f8f8f"/>
<rect x="1380" y="537" width="3" height="3" fill="#8f8f8f"/>
<rect x="1414" y="507" width="3" height="3" fill="#8f8f8f"/>
<rect x="1442" y="472" width="3" height="3" fill="#8f8f8f"/>
<rect x="1463" y="433" width="3" height="3" fill="#8f8f8f"/>
<rect x="1475" y="392" width="3" height="3" fill="#8f8f8f"/>
<rect x="1482" y="350" width="3" height="3" fill="#8f8f8f"/>
<rect x="1477" y="308" width="3" height="3" fill="#8f8f8f"/>
<rect x="1465" y="266" width="3" height="3" fill="#8f8f8f"/>
<rect x="1444" y="228" width="3" height="3" fill="#8f8f8f"/>
<rect x="1416" y="193" width="3" height="3" fill="#8f8f8f"/>
<rect x="1381" y="162" width="3" height="3" fill="#8f8f8f"/>
<rect x="1341" y="138" width="3" height="3" fill="#8f8f8f"/>
<rect x="1297" y="120" width="3" height="3" fill="#8f8f8f"/>
<rect x="1250" y="109" width="3" height="3" fill="#8f8f8f"/>
<rect x="1201" y="105" width="3" height="3" fill="#8f8f8f"/>
<rect x="1152" y="109" width="3" height="3" fill="#8f8f8f"/>
<rect x="1105" y="120" width="3" height="3" fill="#8f8f8f"/>
<rect x="1061" y="138" width="3" height="3" fill="#8f8f8f"/>
<rect x="1021" y="162" width="3" height="3" fill="#8f8f8f"/>
<rect x="986" y="193" width="3" height="3" fill="#8f8f8f"/>
<rect x="958" y="228" width="3" height="3" fill="#8f8f8f"/>
<rect x="937" y="266" width="3" height="3" fill="#8f8f8f"/>
<rect x="925" y="308" width="3" height="3" fill="#8f8f8f"/>
<rect x="920" y="350" width="3" height="3" fill="#8f8f8f"/>
<rect x="925" y="393" width="3" height="3" fill="#8f8f8f"/>
<rect x="937" y="434" width="3" height="3" fill="#8f8f8f"/>
<rect x="958" y="473" width="3" height="3" fill="#8f8f8f"/>
<rect x="986" y="508" width="3" height="3" fill="#8f8f8f"/>
<rect x="1021" y="538" width="3" height="3" fill="#8f8f8f"/>
<rect x="1061" y="563" width="3" height="3" fill="#8f8f8f"/>
<rect x="1105" y="581" width="3" height="3" fill="#8f8f8f"/>
<rect x="1152" y="592" width="3" height="3" fill="#8f8f8f"/>
<rect x="1201" y="595" width="3" height="3" fill="#8f8f8f"/>
<rect x="1250" y="592" width="3" height="3" fill="#8f8f8f"/>
<rect x="1297" y="581" width="3" height="3" fill="#8f8f8f"/>
<rect x="1341" y="563" width="3" height="3" fill="#8f8f8f"/>
<rect x="1381" y="538" width="3" height="3" fill="#8f8f8f"/>
<rect x="1416" y="508" width="3" height="3" fill="#8f8f8f"/>
<rect x="1444" y="473" width="3" height="3" fill="#8f8f8f"/>
<rect x="1465" y="434" width="3" height="3" fill="#8f8f8f"/>
<rect x="1477" y="393" width="3" height="3" fill="#8f8f8f"/>
<rect x="1483" y="350" width="3" height="3" fill="#8f8f8f"/>
<rect x="1478" y="307" width="3" height="3" fill="#8f8f8f"/>
<rect x="1466" y="266" width="3" height="3" fill="#8f8f8f"/>
<rect x="1445" y="227" width="3" height="3" fill="#8f8f8f"/>
<rect x="1417" y="192" width="3" height="3" fill="#8f8f8f"/>
<rect x="1382" y="162" width="3" height="3" fill="#8f8f8f"/>
<rect x="1342" y="137" width="3" height="3" fill="#8f8f8f"/>
<rect x="1297" y="119" width="3" height="3" fill="#8f8f8f"/>
<rect x="1250" y="108" width="3" height="3" fill="#8f8f8f"/>
<rect x="1201" y="104" width="3" height="3" fill="#8f8f8f"/>
<rect x="1152" y="108" width="3" height="3" fill="#8f8f8f"/>
<rect x="1105" y="119" width="3" height="3" fill="#8f8f8f"/>
<rect x="1060" y="137" width="3" height="3" fill="#8f8f8f"/>
<rect x="1020" y="162" width="3" height="3" fill="#8f8f8f"/>
<rect x="985" y="192" width="3" height="3" fill="#8f8f8f"/>
<rect x="957" y="227" width="3" height="3" fill="#8f8f8f"/>
<rect x="936" y="266" width="3" height="3" fill="#8f8f8f"/>
<rect x="924" y="307" width="3" height="3" fill="#8f8f8f"/>
<rect x="919" y="350" width="3" height="3" fill="#8f8f8f"/>
<rect x="924" y="393" width="3" height="3" fill="#8f8f8f"/>
<rect x="936" y="434" width="3" height="3" fill="#8f8f8f"/>
<rect x="957" y="473" width="3" height="3" fill="#8f8f8f"/>
<rect x="985" y="508" width="3" height="3" fill="#8f8f8f"/>
<rect x="1020" y="539" width="3" height="3" fill="#8f8f8f"/>
<rect x="1060" y="563" width="3" height="3" fill="#8f8f8f"/>
<rect x="1105" y="582" width="3" height="3" fill="#8f8f8f"/>
<rect x="1152" y="593" width="3" height="3" fill="#8f8f8f"/>
<rect x="1201" y="596" width="3" height="3" fill="#8f8f8f"/>
<rect x="1250" y="593" width="3" height="3" fill="#8f8f8f"/>
<rect x="1297" y="582" width="3" height="3" fill="#8f8f8f"/>
<rect x="1342" y="563" width="3" height="3" fill="#8f8f8f"/>
<rect x="1382" y="539" width="3" height="3" fill="#8f8f8f"/>
<rect x="1417" y="508" width="3" height="3" fill="#8f8f8f"/>
<rect x="1445" y="473" width="3" height="3" fill="#8f8f8f"/>
<rect x="1466" y="434" width="3" height="3" fill="#8f8f8f"/>
<rect x="1478" y="393" width="3" height="3" fill="#8f8f8f"/>
</g>
<circle cx="1326.5" cy="163.5" r="3.5" fill="#f00"/>
<rect x="920" y="105" width="565" height="1" fill="#000"/>
<rect x="920" y="598" width="565" height="1" fill="#000"/>
<rect x="920" y="105" width="1" height="494" fill="#000"/>
<rect x="1484" y="105" width="1" height="494" fill="#000"/>
<rect x="920" y="599" width="1" height="5" fill="#000"/>
<rect x="915" y="598" width="5" height="1" fill="#000"/>
<rect x="991" y="599" width="1" height="5" fill="#000"/>
<rect x="915" y="536" width="5" height="1" fill="#000"/>
<rect x="1061" y="599" width="1" height="5" fill="#000"/>
<rect x="915" y="474" width="5" height="1" fill="#000"/>
<rect x="1132" y="599" width="1" height="5" fill="#000"/>
<rect x="915" y="413" width="5" height="1" fill="#000"/>
<rect x="1202" y="599" width="1" height="5" fill="#000"/>
<rect x="915" y="351" width="5" height="1" fill="#000"/>
<rect x="1272" y="599" width="1" height="5" fill="#000"/>
<rect x="915" y="290" width="5" height="1" fill="#000"/>
<rect x="1343" y="599" width="1" height="5" fill="#000"/>
<rect x="915" y="228" width="5" height="1" fill="#000"/>
<rect x="1413" y="599" width="1" height="5" fill="#000"/>
<rect x="915" y="166" width="5" height="1" fill="#000"/>
<rect x="1484" y="599" width="1" height="5" fill="#000"/>
<rect x="915" y="105" width="5" height="1" fill="#000"/>
<g style="filter:grayscale(1)" stroke="#000" stroke-width="0.2">
<text transform="matrix(0.9578 0 0 1.0000 103.54 104.00)" font-family="Liberation Sans" font-size="20.60">G</text>
<text transform="matrix(1.0074 0 0 1.0000 119.06 104.00)" font-family="Liberation Sans" font-size="20.60">e</text>
<text transform="matrix(0.9994 0 0 1.0000 131.05 104.00)" font-family="Liberation Sans" font-size="20.60">o</text>
<text transform="matrix(1.0106 0 0 1.0000 143.04 104.00)" font-family="Liberation Sans" font-size="20.60">g</text>
<text transform="matrix(1.1028 0 0 1.0000 155.70 104.00)" font-family="Liberation Sans" font-size="20.60">r</text>
<text transform="matrix(0.9217 0 0 1.0000 163.17 104.00)" font-family="Liberation Sans" font-size="20.60">a</text>
<text transform="matrix(1.1179 0 0 1.0000 175.61 104.00)" font-family="Liberation Sans" font-size="20.60">f</text>
<text transform="matrix(0.9800 0 0 1.0000 182.49 104.00)" font-family="Liberation Sans" font-size="20.60">i</text>
<text transform="matrix(0.9711 0 0 1.0000 187.58 104.00)" font-family="Liberation Sans" font-size="20.60">c</text>
<text transform="matrix(1.0112 0 0 1.0000 204.91 104.00)" font-family="Liberation Sans" font-size="20.60">p</text>
<text transform="matrix(0.9994 0 0 1.0000 217.03 104.00)" font-family="Liberation Sans" font-size="20.60">o</text>
<text transform="matrix(0.9498 0 0 1.0000 229.05 104.00)" font-family="Liberation Sans" font-size="20.60">s</text>
<text transform="matrix(0.9800 0 0 1.0000 239.38 104.00)" font-family="Liberation Sans" font-size="20.60">i</text>
<text transform="matrix(1.1290 0 0 1.0000 244.86 104.00)" font-family="Liberation Sans" font-size="20.60">t</text>
<text transform="matrix(0.9800 0 0 1.0000 252.46 104.00)" font-family="Liberation Sans" font-size="20.60">i</text>
<text transform="matrix(0.9994 0 0 1.0000 257.66 104.00)" font-family="Liberation Sans" font-size="20.60">o</text>
<text transform="matrix(1.0065 0 0 1.0000 269.82 104.00)" font-family="Liberation Sans" font-size="20.60">n</text>
<text transform="matrix(1.0084 0 0 1.0000 282.14 104.00)" font-family="Liberation Sans" font-size="20.60">:</text>
<text transform="matrix(0.9952 0 0 1.0000 295.02 104.00)" font-family="Liberation Sans" font-size="20.60">4</text>
<text transform="matrix(1.0005 0 0 1.0000 307.41 104.00)" font-family="Liberation Sans" font-size="20.60">8</text>
<text transform="matrix(1.0084 0 0 1.0000 319.57 104.00)" font-family="Liberation Sans" font-size="20.60">.</text>
<text transform="matrix(0.9753 0 0 1.0000 326.21 104.00)" font-family="Liberation Sans" font-size="20.60">3</text>
<text transform="matrix(1.0005 0 0 1.0000 338.47 104.00)" font-family="Liberation Sans" font-size="20.60">8</text>
<text transform="matrix(1.0190 0 0 1.0514 351.11 104.69)" font-family="Liberation Sans" font-size="20.60">°</text>
<text transform="matrix(0.9637 0 0 1.0000 360.31 104.00)" font-family="Liberation Sans" font-size="20.60">N</text>
<text transform="matrix(0.9771 0 0 1.0000 381.35 104.00)" font-family="Liberation Sans" font-size="20.60">2</text>
<text transform="matrix(0.9727 0 0 1.0000 393.96 104.00)" font-family="Liberation Sans" font-size="20.60">1</text>
<text transform="matrix(1.0084 0 0 1.0000 406.05 104.00)" font-family="Liberation Sans" font-size="20.60">.</text>
<text transform="matrix(0.9952 0 0 1.0000 412.56 104.00)" font-family="Liberation Sans" font-size="20.60">4</text>
<text transform="matrix(0.9753 0 0 1.0000 425.12 104.00)" font-family="Liberation Sans" font-size="20.60">3</text>
<text transform="matrix(1.0190 0 0 1.0514 437.59 104.69)" font-family="Liberation Sans" font-size="20.60">°</text>
<text transform="matrix(0.9063 0 0 1.0000 446.57 104.00)" font-family="Liberation Sans" font-size="20.60">E</text>
<text transform="matrix(0.9801 0 0 1.0000 103.87 144.00)" font-family="Liberation Sans" font-size="20.60">2</text>
<text transform="matrix(0.9980 0 0 1.0000 116.36 144.00)" font-family="Liberation Sans" font-size="20.60">0</text>
<text transform="matrix(0.9980 0 0 1.0000 128.69 144.00)" font-family="Liberation Sans" font-size="20.60">0</text>
<text transform="matrix(0.9981 0 0 1.0000 141.03 144.00)" font-family="Liberation Sans" font-size="20.60">4</text>
<text transform="matrix(1.0726 0 0 1.0000 153.11 144.00)" font-family="Liberation Sans" font-size="20.60">/</text>
<text transform="matrix(0.9980 0 0 1.0000 159.89 144.00)" font-family="Liberation Sans" font-size="20.60">0</text>
<text transform="matrix(1.0154 0 0 1.0000 172.13 144.00)" font-family="Liberation Sans" font-size="20.60">6</text>
<text transform="matrix(1.0726 0 0 1.0000 184.31 144.00)" font-family="Liberation Sans" font-size="20.60">/</text>
<text transform="matrix(0.9801 0 0 1.0000 190.94 144.00)" font-family="Liberation Sans" font-size="20.60">2</text>
<text transform="matrix(0.9981 0 0 1.0000 203.42 144.00)" font-family="Liberation Sans" font-size="20.60">4</text>
<text transform="matrix(0.9980 0 0 1.0000 221.92 144.00)" font-family="Liberation Sans" font-size="20.60">0</text>
<text transform="matrix(1.0143 0 0 1.0000 234.10 144.00)" font-family="Liberation Sans" font-size="20.60">9</text>
<text transform="matrix(1.0111 0 0 1.0000 246.52 144.00)" font-family="Liberation Sans" font-size="20.60">:</text>
<text transform="matrix(0.9980 0 0 1.0000 253.12 144.00)" font-family="Liberation Sans" font-size="20.60">0</text>
<text transform="matrix(0.9980 0 0 1.0000 265.45 144.00)" font-family="Liberation Sans" font-size="20.60">0</text>
<text transform="matrix(1.0111 0 0 1.0000 277.72 144.00)" font-family="Liberation Sans" font-size="20.60">:</text>
<text transform="matrix(0.9980 0 0 1.0000 284.32 144.00)" font-family="Liberation Sans" font-size="20.60">0</text>
<text transform="matrix(0.9980 0 0 1.0000 296.65 144.00)" font-family="Liberation Sans" font-size="20.60">0</text>
<text transform="matrix(0.9311 0 0 1.0000 104.61 177.00)" font-family="Liberation Sans" font-size="14.72">Y</text>
<text transform="matrix(0.9311 0 0 1.0000 112.93 177.00)" font-family="Liberation Sans" font-size="14.72">Y</text>
<text transform="matrix(0.9311 0 0 1.0000 121.24 177.00)" font-family="Liberation Sans" font-size="14.72">Y</text>
<text transform="matrix(0.9311 0 0 1.0000 129.55 177.00)" font-family="Liberation Sans" font-size="14.72">Y</text>
<text transform="matrix(1.0355 0 0 1.0000 138.46 177.00)" font-family="Liberation Sans" font-size="14.72">/</text>
<text transform="matrix(0.9359 0 0 1.0000 143.01 177.00)" font-family="Liberation Sans" font-size="14.72">M</text>
<text transform="matrix(0.9359 0 0 1.0000 154.75 177.00)" font-family="Liberation Sans" font-size="14.72">M</text>
<text transform="matrix(1.0355 0 0 1.0000 166.53 177.00)" font-family="Liberation Sans" font-size="14.72">/</text>
<text transform="matrix(0.9532 0 0 1.0000 171.14 177.00)" font-family="Liberation Sans" font-size="14.72">D</text>
<text transform="matrix(0.9532 0 0 1.0000 181.62 177.00)" font-family="Liberation Sans" font-size="14.72">D</text>
<text transform="matrix(0.9387 0 0 1.0000 223.42 176.40)" font-family="Liberation Sans" font-size="14.72">H</text>
<text transform="matrix(0.9387 0 0 1.0000 233.74 176.40)" font-family="Liberation Sans" font-size="14.72">H</text>
<text transform="matrix(0.9794 0 0 1.0000 244.21 176.40)" font-family="Liberation Sans" font-size="14.72">:</text>
<text transform="matrix(0.9398 0 0 1.0000 248.68 176.40)" font-family="Liberation Sans" font-size="14.72">M</text>
<text transform="matrix(0.9398 0 0 1.0000 260.53 176.40)" font-family="Liberation Sans" font-size="14.72">M</text>
<text transform="matrix(0.9794 0 0 1.0000 272.52 176.40)" font-family="Liberation Sans" font-size="14.72">:</text>
<text transform="matrix(0.8906 0 0 1.0000 276.89 176.40)" font-family="Liberation Sans" font-size="14.72">S</text>
<text transform="matrix(0.8906 0 0 1.0000 285.61 176.40)" font-family="Liberation Sans" font-size="14.72">S</text>
<text transform="matrix(1.0084 0 0 1.0000 475.88 184.00)" font-family="Liberation Sans" font-size="23.30" text-rendering="geometricPrecision">D</text>
<text transform="matrix(1.0025 0 0 1.0000 493.48 184.00)" font-family="Liberation Sans" font-size="23.30" text-rendering="geometricPrecision">i</text>
<text transform="matrix(1.1270 0 0 1.0000 499.77 184.00)" font-family="Liberation Sans" font-size="23.30" text-rendering="geometricPrecision">r</text>
<text transform="matrix(1.0303 0 0 1.0000 508.15 184.00)" font-family="Liberation Sans" font-size="23.30" text-rendering="geometricPrecision">e</text>
<text transform="matrix(0.9934 0 0 1.0000 521.78 184.00)" font-family="Liberation Sans" font-size="23.30" text-rendering="geometricPrecision">c</text>
<text transform="matrix(1.1536 0 0 1.0000 534.57 184.00)" font-family="Liberation Sans" font-size="23.30" text-rendering="geometricPrecision">t</text>
<text transform="matrix(1.0025 0 0 1.0000 543.30 184.00)" font-family="Liberation Sans" font-size="23.30" text-rendering="geometricPrecision">i</text>
<text transform="matrix(1.0221 0 0 1.0000 549.23 184.00)" font-family="Liberation Sans" font-size="23.30" text-rendering="geometricPrecision">o</text>
<text transform="matrix(1.0294 0 0 1.0000 563.18 184.00)" font-family="Liberation Sans" font-size="23.30" text-rendering="geometricPrecision">n</text>
<text transform="matrix(1.0195 0 0 1.0000 584.02 184.00)" font-family="Liberation Sans" font-size="23.30" text-rendering="geometricPrecision">I</text>
<text transform="matrix(1.0084 0 0 1.0000 590.80 184.00)" font-family="Liberation Sans" font-size="23.30" text-rendering="geometricPrecision">D</text>
<text transform="matrix(1.0312 0 0 1.0000 608.31 184.00)" font-family="Liberation Sans" font-size="23.30" text-rendering="geometricPrecision">:</text>
<text transform="matrix(0.9977 0 0 1.0000 623.22 184.00)" font-family="Liberation Sans" font-size="23.30" text-rendering="geometricPrecision">3</text>
<text transform="matrix(0.9951 0 0 1.0000 637.35 184.00)" font-family="Liberation Sans" font-size="23.30" text-rendering="geometricPrecision">1</text>
<text transform="matrix(0.9977 0 0 1.0000 651.73 184.00)" font-family="Liberation Sans" font-size="23.30" text-rendering="geometricPrecision">3</text>
<text transform="matrix(0.9287 0 0 1.0000 161.06 320.20)" font-family="Liberation Sans" font-size="14.72">3</text>
<text transform="matrix(0.9599 0 0 1.0000 169.18 320.20)" font-family="Liberation Sans" font-size="14.72">.</text>
<text transform="matrix(0.9525 0 0 1.0000 173.54 320.20)" font-family="Liberation Sans" font-size="14.72">8</text>
<text transform="matrix(0.9480 0 0 1.0000 239.97 320.20)" font-family="Liberation Sans" font-size="14.72">4</text>
<text transform="matrix(0.9604 0 0 1.0000 248.19 320.20)" font-family="Liberation Sans" font-size="14.72">.</text>
<text transform="matrix(0.9479 0 0 1.0000 252.57 320.20)" font-family="Liberation Sans" font-size="14.72">0</text>
<text transform="matrix(0.9474 0 0 1.0000 319.04 320.20)" font-family="Liberation Sans" font-size="14.72">4</text>
<text transform="matrix(0.9599 0 0 1.0000 327.25 320.20)" font-family="Liberation Sans" font-size="14.72">.</text>
<text transform="matrix(0.9303 0 0 1.0000 331.53 320.20)" font-family="Liberation Sans" font-size="14.72">2</text>
<text transform="matrix(0.9481 0 0 1.0000 397.58 320.20)" font-family="Liberation Sans" font-size="14.72">4</text>
<text transform="matrix(0.9606 0 0 1.0000 405.80 320.20)" font-family="Liberation Sans" font-size="14.72">.</text>
<text transform="matrix(0.9481 0 0 1.0000 410.19 320.20)" font-family="Liberation Sans" font-size="14.72">4</text>
<text transform="matrix(0.9543 0 0 1.0000 476.44 320.20)" font-family="Liberation Sans" font-size="14.72">4</text>
<text transform="matrix(0.9668 0 0 1.0000 484.67 320.20)" font-family="Liberation Sans" font-size="14.72">.</text>
<text transform="matrix(0.9708 0 0 1.0000 488.98 320.20)" font-family="Liberation Sans" font-size="14.72">6</text>
<text transform="matrix(0.9492 0 0 1.0000 555.34 320.20)" font-family="Liberation Sans" font-size="14.72">4</text>
<text transform="matrix(0.9617 0 0 1.0000 563.56 320.20)" font-family="Liberation Sans" font-size="14.72">.</text>
<text transform="matrix(0.9543 0 0 1.0000 567.92 320.20)" font-family="Liberation Sans" font-size="14.72">8</text>
<text transform="matrix(0.9209 0 0 1.0000 634.05 320.20)" font-family="Liberation Sans" font-size="14.72">5</text>
<text transform="matrix(0.9599 0 0 1.0000 642.20 320.20)" font-family="Liberation Sans" font-size="14.72">.</text>
<text transform="matrix(0.9474 0 0 1.0000 646.58 320.20)" font-family="Liberation Sans" font-size="14.72">0</text>
<text transform="matrix(0.9119 0 0 1.0000 165.70 348.90)" font-family="Liberation Sans" font-size="14.72">R</text>
<text transform="matrix(0.9714 0 0 1.0000 175.21 348.90)" font-family="Liberation Sans" font-size="14.72">d</text>
<text transform="matrix(0.9354 0 0 1.0000 295.69 348.90)" font-family="Liberation Sans" font-size="14.72">R</text>
<text transform="matrix(0.9942 0 0 1.0000 304.92 348.90)" font-family="Liberation Sans" font-size="14.72">e</text>
<text transform="matrix(0.9337 0 0 1.0000 559.94 348.90)" font-family="Liberation Sans" font-size="14.72">R</text>
<text transform="matrix(0.9916 0 0 1.0000 569.25 348.90)" font-family="Liberation Sans" font-size="14.72">u</text>
<text x="105.39" y="380.00" font-family="Liberation Sans" font-size="14.42" textLength="9.23" lengthAdjust="spacingAndGlyphs">Δ</text>
<text transform="matrix(0.9589 0 0 1.0000 115.95 380.00)" font-family="Liberation Sans" font-size="20.60">R</text>
<text transform="matrix(1.1161 0 0 0.8265 137.20 379.52)" font-family="Liberation Sans" font-size="20.60">=</text>
<text transform="matrix(1.0052 0 0 1.0000 158.72 380.00)" font-family="Liberation Sans" font-size="20.60">0</text>
<text transform="matrix(1.0184 0 0 1.0000 170.86 380.00)" font-family="Liberation Sans" font-size="20.60">.</text>
<text transform="matrix(1.0052 0 0 1.0000 177.33 380.00)" font-family="Liberation Sans" font-size="20.60">0</text>
<text transform="matrix(0.9828 0 0 1.0000 189.76 380.00)" font-family="Liberation Sans" font-size="20.60">1</text>
<text x="554.76" y="379.82" font-family="Liberation Serif" font-size="18.20" textLength="11.68" lengthAdjust="spacingAndGlyphs">θ</text>
<text transform="matrix(1.1389 0 0 0.8265 575.23 379.52)" font-family="Liberation Sans" font-size="20.60">=</text>
<text transform="matrix(1.0444 0 0 1.0000 596.88 380.00)" font-family="Liberation Sans" font-size="20.60">6</text>
<text transform="matrix(1.0085 0 0 1.0000 609.36 380.00)" font-family="Liberation Sans" font-size="20.60">2</text>
<text transform="matrix(1.0401 0 0 1.0000 621.82 380.00)" font-family="Liberation Sans" font-size="20.60">.</text>
<text transform="matrix(1.0268 0 0 1.0000 628.32 380.00)" font-family="Liberation Sans" font-size="20.60">0</text>
<text transform="matrix(0.9984 0 0 1.0000 640.95 380.00)" font-family="Liberation Sans" font-size="20.60">5</text>
<text transform="matrix(1.0509 0 0 1.0514 653.63 380.69)" font-family="Liberation Sans" font-size="20.60">°</text>
<text x="556.62" y="415.86" font-family="Liberation Serif" font-size="18.99" textLength="13.17" lengthAdjust="spacingAndGlyphs">φ</text>
<text transform="matrix(1.1351 0 0 0.8265 575.22 419.52)" font-family="Liberation Sans" font-size="20.60">=</text>
<text transform="matrix(1.0054 0 0 1.0000 596.71 420.00)" font-family="Liberation Sans" font-size="20.60">2</text>
<text transform="matrix(1.0236 0 0 1.0000 609.35 420.00)" font-family="Liberation Sans" font-size="20.60">4</text>
<text transform="matrix(1.0235 0 0 1.0000 621.83 420.00)" font-family="Liberation Sans" font-size="20.60">0</text>
<text transform="matrix(1.0368 0 0 1.0000 634.08 420.00)" font-family="Liberation Sans" font-size="20.60">.</text>
<text transform="matrix(1.0235 0 0 1.0000 640.55 420.00)" font-family="Liberation Sans" font-size="20.60">0</text>
<text transform="matrix(1.0475 0 0 1.0514 653.25 420.69)" font-family="Liberation Sans" font-size="20.60">°</text>
<text transform="matrix(0.9518 0 0 1.0000 103.38 420.00)" font-family="Liberation Sans" font-size="20.60">R</text>
<text transform="matrix(1.0139 0 0 1.0000 117.23 420.00)" font-family="Liberation Sans" font-size="20.60">d</text>
<text transform="matrix(1.1097 0 0 0.8265 137.14 419.52)" font-family="Liberation Sans" font-size="20.60">=</text>
<text transform="matrix(0.9784 0 0 1.0000 158.89 420.00)" font-family="Liberation Sans" font-size="20.60">3</text>
<text transform="matrix(1.0116 0 0 1.0000 170.91 420.00)" font-family="Liberation Sans" font-size="20.60">.</text>
<text transform="matrix(1.0037 0 0 1.0000 177.41 420.00)" font-family="Liberation Sans" font-size="20.60">8</text>
<text transform="matrix(0.9758 0 0 1.0000 189.93 420.00)" font-family="Liberation Sans" font-size="20.60">1</text>
<text transform="matrix(0.9608 0 0 1.0000 207.96 420.00)" font-family="Liberation Sans" font-size="20.60">G</text>
<text transform="matrix(0.9796 0 0 1.0000 223.23 420.00)" font-family="Liberation Sans" font-size="20.60">V</text>
<text transform="matrix(0.9581 0 0 1.0000 103.36 460.00)" font-family="Liberation Sans" font-size="20.60">R</text>
<text transform="matrix(1.0172 0 0 1.0000 116.38 460.00)" font-family="Liberation Sans" font-size="20.60">e</text>
<text transform="matrix(1.1168 0 0 0.8265 136.02 459.52)" font-family="Liberation Sans" font-size="20.60">=</text>
<text transform="matrix(1.0048 0 0 1.0000 157.74 460.00)" font-family="Liberation Sans" font-size="20.60">4</text>
<text transform="matrix(1.0181 0 0 1.0000 169.97 460.00)" font-family="Liberation Sans" font-size="20.60">.</text>
<text transform="matrix(0.9822 0 0 1.0000 176.56 460.00)" font-family="Liberation Sans" font-size="20.60">1</text>
<text transform="matrix(1.0048 0 0 1.0000 189.05 460.00)" font-family="Liberation Sans" font-size="20.60">4</text>
<text transform="matrix(0.9671 0 0 1.0000 207.21 460.00)" font-family="Liberation Sans" font-size="20.60">G</text>
<text transform="matrix(0.9860 0 0 1.0000 222.55 460.00)" font-family="Liberation Sans" font-size="20.60">V</text>
<text transform="matrix(0.9586 0 0 1.0000 103.36 500.00)" font-family="Liberation Sans" font-size="20.60">R</text>
<text transform="matrix(1.0168 0 0 1.0000 116.49 500.00)" font-family="Liberation Sans" font-size="20.60">u</text>
<text transform="matrix(1.1174 0 0 0.8265 136.39 499.52)" font-family="Liberation Sans" font-size="20.60">=</text>
<text transform="matrix(1.0054 0 0 1.0000 158.12 500.00)" font-family="Liberation Sans" font-size="20.60">4</text>
<text transform="matrix(1.0187 0 0 1.0000 170.36 500.00)" font-family="Liberation Sans" font-size="20.60">.</text>
<text transform="matrix(1.0108 0 0 1.0000 176.88 500.00)" font-family="Liberation Sans" font-size="20.60">8</text>
<text transform="matrix(0.9827 0 0 1.0000 189.47 500.00)" font-family="Liberation Sans" font-size="20.60">1</text>
<text transform="matrix(0.9677 0 0 1.0000 207.60 500.00)" font-family="Liberation Sans" font-size="20.60">G</text>
<text transform="matrix(0.9866 0 0 1.0000 222.95 500.00)" font-family="Liberation Sans" font-size="20.60">V</text>
<text transform="matrix(0.9868 0 0 1.0000 103.41 540.00)" font-family="Liberation Sans" font-size="20.60">M</text>
<text transform="matrix(1.0187 0 0 1.0000 120.70 540.00)" font-family="Liberation Sans" font-size="20.60">o</text>
<text transform="matrix(1.0302 0 0 1.0000 132.90 540.00)" font-family="Liberation Sans" font-size="20.60">d</text>
<text transform="matrix(1.0269 0 0 1.0000 145.50 540.00)" font-family="Liberation Sans" font-size="20.60">e</text>
<text transform="matrix(0.9990 0 0 1.0000 157.93 540.00)" font-family="Liberation Sans" font-size="20.60">l</text>
<text transform="matrix(1.0278 0 0 1.0000 163.38 540.00)" font-family="Liberation Sans" font-size="20.60">:</text>
<text transform="matrix(1.0320 0 0 1.0000 175.57 540.00)" font-family="Liberation Sans" font-size="20.60">T</text>
<text transform="matrix(0.9683 0 0 1.0000 185.16 540.00)" font-family="Liberation Sans" font-size="20.60">s</text>
<text transform="matrix(1.0239 0 0 1.0000 195.80 540.00)" font-family="Liberation Sans" font-size="20.60">y</text>
<text transform="matrix(1.0302 0 0 1.0000 207.25 540.00)" font-family="Liberation Sans" font-size="20.60">g</text>
<text transform="matrix(0.9396 0 0 1.0000 219.56 540.00)" font-family="Liberation Sans" font-size="20.60">a</text>
<text transform="matrix(1.0260 0 0 1.0000 232.21 540.00)" font-family="Liberation Sans" font-size="20.60">n</text>
<text transform="matrix(1.0269 0 0 1.0000 244.62 540.00)" font-family="Liberation Sans" font-size="20.60">e</text>
<text transform="matrix(1.0260 0 0 1.0000 257.04 540.00)" font-family="Liberation Sans" font-size="20.60">n</text>
<text transform="matrix(1.0452 0 0 1.0000 269.67 540.00)" font-family="Liberation Sans" font-size="20.60">k</text>
<text transform="matrix(1.0187 0 0 1.0000 280.22 540.00)" font-family="Liberation Sans" font-size="20.60">o</text>
<text transform="matrix(1.0144 0 0 1.0000 298.96 540.00)" font-family="Liberation Sans" font-size="20.60">0</text>
<text transform="matrix(0.9858 0 0 1.0000 311.69 540.00)" font-family="Liberation Sans" font-size="20.60">5</text>
<text transform="matrix(0.9604 0 0 1.0000 1196.06 80.00)" font-family="Liberation Sans" font-size="23.30" text-rendering="geometricPrecision">N</text>
<text transform="matrix(0.8946 0 0 1.0000 1197.25 656.00)" font-family="Liberation Sans" font-size="23.30" text-rendering="geometricPrecision">S</text>
<text transform="matrix(0.9285 0 0 1.0000 841.65 360.00)" font-family="Liberation Sans" font-size="23.30" text-rendering="geometricPrecision">W</text>
<text transform="matrix(0.8315 0 0 1.0000 1507.51 360.00)" font-family="Liberation Sans" font-size="23.30" text-rendering="geometricPrecision">E</text>
<text transform="matrix(1.0998 0 0 1.0989 870.04 604.10)" font-family="Liberation Sans" font-size="14.72">−</text>
<text transform="matrix(0.9703 0 0 1.0000 880.70 603.08)" font-family="Liberation Sans" font-size="14.72">1</text>
<text transform="matrix(1.0049 0 0 1.0000 889.15 603.08)" font-family="Liberation Sans" font-size="14.72">.</text>
<text transform="matrix(0.9921 0 0 1.0000 893.61 603.08)" font-family="Liberation Sans" font-size="14.72">0</text>
<text transform="matrix(0.9921 0 0 1.0000 902.23 603.08)" font-family="Liberation Sans" font-size="14.72">0</text>
<text transform="matrix(1.0998 0 0 1.0989 900.58 619.22)" font-family="Liberation Sans" font-size="14.72">−</text>
<text transform="matrix(0.9703 0 0 1.0000 911.25 618.20)" font-family="Liberation Sans" font-size="14.72">1</text>
<text transform="matrix(1.0049 0 0 1.0000 919.70 618.20)" font-family="Liberation Sans" font-size="14.72">.</text>
<text transform="matrix(0.9921 0 0 1.0000 924.15 618.20)" font-family="Liberation Sans" font-size="14.72">0</text>
<text transform="matrix(0.9921 0 0 1.0000 932.77 618.20)" font-family="Liberation Sans" font-size="14.72">0</text>
<text transform="matrix(1.0952 0 0 1.0989 870.35 542.51)" font-family="Liberation Sans" font-size="14.72">−</text>
<text transform="matrix(0.9875 0 0 1.0000 881.00 541.48)" font-family="Liberation Sans" font-size="14.72">0</text>
<text transform="matrix(1.0003 0 0 1.0000 889.45 541.48)" font-family="Liberation Sans" font-size="14.72">.</text>
<text transform="matrix(0.9769 0 0 1.0000 893.93 541.48)" font-family="Liberation Sans" font-size="14.72">7</text>
<text transform="matrix(0.9602 0 0 1.0000 902.59 541.48)" font-family="Liberation Sans" font-size="14.72">5</text>
<text transform="matrix(1.0952 0 0 1.0989 971.21 619.22)" font-family="Liberation Sans" font-size="14.72">−</text>
<text transform="matrix(0.9875 0 0 1.0000 981.85 618.20)" font-family="Liberation Sans" font-size="14.72">0</text>
<text transform="matrix(1.0003 0 0 1.0000 990.31 618.20)" font-family="Liberation Sans" font-size="14.72">.</text>
<text transform="matrix(0.9769 0 0 1.0000 994.79 618.20)" font-family="Liberation Sans" font-size="14.72">7</text>
<text transform="matrix(0.9602 0 0 1.0000 1003.45 618.20)" font-family="Liberation Sans" font-size="14.72">5</text>
<text transform="matrix(1.0976 0 0 1.0989 870.05 480.91)" font-family="Liberation Sans" font-size="14.72">−</text>
<text transform="matrix(0.9898 0 0 1.0000 880.70 479.88)" font-family="Liberation Sans" font-size="14.72">0</text>
<text transform="matrix(1.0027 0 0 1.0000 889.16 479.88)" font-family="Liberation Sans" font-size="14.72">.</text>
<text transform="matrix(0.9625 0 0 1.0000 893.68 479.88)" font-family="Liberation Sans" font-size="14.72">5</text>
<text transform="matrix(0.9898 0 0 1.0000 902.24 479.88)" font-family="Liberation Sans" font-size="14.72">0</text>
<text transform="matrix(1.0976 0 0 1.0989 1041.51 619.22)" font-family="Liberation Sans" font-size="14.72">−</text>
<text transform="matrix(0.9898 0 0 1.0000 1052.16 618.20)" font-family="Liberation Sans" font-size="14.72">0</text>
<text transform="matrix(1.0027 0 0 1.0000 1060.62 618.20)" font-family="Liberation Sans" font-size="14.72">.</text>
<text transform="matrix(0.9625 0 0 1.0000 1065.14 618.20)" font-family="Liberation Sans" font-size="14.72">5</text>
<text transform="matrix(0.9898 0 0 1.0000 1073.70 618.20)" font-family="Liberation Sans" font-size="14.72">0</text>
<text transform="matrix(1.0936 0 0 1.0989 870.36 419.31)" font-family="Liberation Sans" font-size="14.72">−</text>
<text transform="matrix(0.9858 0 0 1.0000 881.00 418.29)" font-family="Liberation Sans" font-size="14.72">0</text>
<text transform="matrix(0.9987 0 0 1.0000 889.45 418.29)" font-family="Liberation Sans" font-size="14.72">.</text>
<text transform="matrix(0.9683 0 0 1.0000 893.81 418.29)" font-family="Liberation Sans" font-size="14.72">2</text>
<text transform="matrix(0.9586 0 0 1.0000 902.60 418.29)" font-family="Liberation Sans" font-size="14.72">5</text>
<text transform="matrix(1.0936 0 0 1.0989 1112.13 619.22)" font-family="Liberation Sans" font-size="14.72">−</text>
<text transform="matrix(0.9858 0 0 1.0000 1122.78 618.20)" font-family="Liberation Sans" font-size="14.72">0</text>
<text transform="matrix(0.9987 0 0 1.0000 1131.23 618.20)" font-family="Liberation Sans" font-size="14.72">.</text>
<text transform="matrix(0.9683 0 0 1.0000 1135.59 618.20)" font-family="Liberation Sans" font-size="14.72">2</text>
<text transform="matrix(0.9586 0 0 1.0000 1144.37 618.20)" font-family="Liberation Sans" font-size="14.72">5</text>
<text transform="matrix(0.9610 0 0 1.0000 881.06 356.69)" font-family="Liberation Sans" font-size="14.72">0</text>
<text transform="matrix(0.9737 0 0 1.0000 889.40 356.69)" font-family="Liberation Sans" font-size="14.72">.</text>
<text transform="matrix(0.9610 0 0 1.0000 893.85 356.69)" font-family="Liberation Sans" font-size="14.72">0</text>
<text transform="matrix(0.9610 0 0 1.0000 902.39 356.69)" font-family="Liberation Sans" font-size="14.72">0</text>
<text transform="matrix(0.9610 0 0 1.0000 1187.90 618.20)" font-family="Liberation Sans" font-size="14.72">0</text>
<text transform="matrix(0.9737 0 0 1.0000 1196.24 618.20)" font-family="Liberation Sans" font-size="14.72">.</text>
<text transform="matrix(0.9610 0 0 1.0000 1200.70 618.20)" font-family="Liberation Sans" font-size="14.72">0</text>
<text transform="matrix(0.9610 0 0 1.0000 1209.23 618.20)" font-family="Liberation Sans" font-size="14.72">0</text>
<text transform="matrix(0.9549 0 0 1.0000 881.37 295.09)" font-family="Liberation Sans" font-size="14.72">0</text>
<text transform="matrix(0.9676 0 0 1.0000 889.70 295.09)" font-family="Liberation Sans" font-size="14.72">.</text>
<text transform="matrix(0.9376 0 0 1.0000 894.06 295.09)" font-family="Liberation Sans" font-size="14.72">2</text>
<text transform="matrix(0.9279 0 0 1.0000 902.75 295.09)" font-family="Liberation Sans" font-size="14.72">5</text>
<text transform="matrix(0.9549 0 0 1.0000 1258.53 618.20)" font-family="Liberation Sans" font-size="14.72">0</text>
<text transform="matrix(0.9676 0 0 1.0000 1266.85 618.20)" font-family="Liberation Sans" font-size="14.72">.</text>
<text transform="matrix(0.9376 0 0 1.0000 1271.22 618.20)" font-family="Liberation Sans" font-size="14.72">2</text>
<text transform="matrix(0.9279 0 0 1.0000 1279.91 618.20)" font-family="Liberation Sans" font-size="14.72">5</text>
<text transform="matrix(0.9551 0 0 1.0000 881.08 233.50)" font-family="Liberation Sans" font-size="14.72">0</text>
<text transform="matrix(0.9678 0 0 1.0000 889.41 233.50)" font-family="Liberation Sans" font-size="14.72">.</text>
<text transform="matrix(0.9281 0 0 1.0000 893.94 233.50)" font-family="Liberation Sans" font-size="14.72">5</text>
<text transform="matrix(0.9551 0 0 1.0000 902.41 233.50)" font-family="Liberation Sans" font-size="14.72">0</text>
<text transform="matrix(0.9551 0 0 1.0000 1328.85 618.20)" font-family="Liberation Sans" font-size="14.72">0</text>
<text transform="matrix(0.9678 0 0 1.0000 1337.17 618.20)" font-family="Liberation Sans" font-size="14.72">.</text>
<text transform="matrix(0.9281 0 0 1.0000 1341.70 618.20)" font-family="Liberation Sans" font-size="14.72">5</text>
<text transform="matrix(0.9551 0 0 1.0000 1350.17 618.20)" font-family="Liberation Sans" font-size="14.72">0</text>
<text transform="matrix(0.9549 0 0 1.0000 881.37 171.90)" font-family="Liberation Sans" font-size="14.72">0</text>
<text transform="matrix(0.9676 0 0 1.0000 889.70 171.90)" font-family="Liberation Sans" font-size="14.72">.</text>
<text transform="matrix(0.9444 0 0 1.0000 894.18 171.90)" font-family="Liberation Sans" font-size="14.72">7</text>
<text transform="matrix(0.9279 0 0 1.0000 902.75 171.90)" font-family="Liberation Sans" font-size="14.72">5</text>
<text transform="matrix(0.9549 0 0 1.0000 1399.45 618.20)" font-family="Liberation Sans" font-size="14.72">0</text>
<text transform="matrix(0.9676 0 0 1.0000 1407.77 618.20)" font-family="Liberation Sans" font-size="14.72">.</text>
<text transform="matrix(0.9444 0 0 1.0000 1412.26 618.20)" font-family="Liberation Sans" font-size="14.72">7</text>
<text transform="matrix(0.9279 0 0 1.0000 1420.83 618.20)" font-family="Liberation Sans" font-size="14.72">5</text>
<text transform="matrix(0.9332 0 0 1.0000 881.12 110.30)" font-family="Liberation Sans" font-size="14.72">1</text>
<text transform="matrix(0.9674 0 0 1.0000 889.42 110.30)" font-family="Liberation Sans" font-size="14.72">.</text>
<text transform="matrix(0.9547 0 0 1.0000 893.89 110.30)" font-family="Liberation Sans" font-size="14.72">0</text>
<text transform="matrix(0.9547 0 0 1.0000 902.41 110.30)" font-family="Liberation Sans" font-size="14.72">0</text>
<text transform="matrix(0.9332 0 0 1.0000 1469.50 618.20)" font-family="Liberation Sans" font-size="14.72">1</text>
<text transform="matrix(0.9674 0 0 1.0000 1477.80 618.20)" font-family="Liberation Sans" font-size="14.72">.</text>
<text transform="matrix(0.9547 0 0 1.0000 1482.27 618.20)" font-family="Liberation Sans" font-size="14.72">0</text>
<text transform="matrix(0.9547 0 0 1.0000 1490.79 618.20)" font-family="Liberation Sans" font-size="14.72">0</text>
<text transform="matrix(1.0377 0 0 1.0000 448.00 720.00)" font-family="Liberation Sans" font-size="23.30" text-rendering="geometricPrecision">T</text>
<text transform="matrix(1.0353 0 0 1.0000 462.56 720.00)" font-family="Liberation Sans" font-size="23.30" text-rendering="geometricPrecision">h</text>
<text transform="matrix(1.0327 0 0 1.0000 476.54 720.00)" font-family="Liberation Sans" font-size="23.30" text-rendering="geometricPrecision">e</text>
<text transform="matrix(0.9745 0 0 1.0000 497.43 720.00)" font-family="Liberation Sans" font-size="23.30" text-rendering="geometricPrecision">s</text>
<text transform="matrix(1.0364 0 0 1.0000 509.26 720.00)" font-family="Liberation Sans" font-size="23.30" text-rendering="geometricPrecision">p</text>
<text transform="matrix(1.0327 0 0 1.0000 523.14 720.00)" font-family="Liberation Sans" font-size="23.30" text-rendering="geometricPrecision">e</text>
<text transform="matrix(0.9960 0 0 1.0000 536.71 720.00)" font-family="Liberation Sans" font-size="23.30" text-rendering="geometricPrecision">c</text>
<text transform="matrix(1.1554 0 0 1.0000 549.47 720.00)" font-family="Liberation Sans" font-size="23.30" text-rendering="geometricPrecision">t</text>
<text transform="matrix(1.1290 0 0 1.0000 558.22 720.00)" font-family="Liberation Sans" font-size="23.30" text-rendering="geometricPrecision">r</text>
<text transform="matrix(1.0317 0 0 1.0000 567.16 720.00)" font-family="Liberation Sans" font-size="23.30" text-rendering="geometricPrecision">u</text>
<text transform="matrix(1.0610 0 0 1.0000 581.59 720.00)" font-family="Liberation Sans" font-size="23.30" text-rendering="geometricPrecision">m</text>
<text transform="matrix(1.0245 0 0 1.0000 609.97 720.00)" font-family="Liberation Sans" font-size="23.30" text-rendering="geometricPrecision">o</text>
<text transform="matrix(1.1442 0 0 1.0000 623.91 720.00)" font-family="Liberation Sans" font-size="23.30" text-rendering="geometricPrecision">f</text>
<text transform="matrix(0.9461 0 0 1.0000 638.27 720.00)" font-family="Liberation Sans" font-size="23.30" text-rendering="geometricPrecision">a</text>
<text transform="matrix(1.0050 0 0 1.0000 652.54 720.00)" font-family="Liberation Sans" font-size="23.30" text-rendering="geometricPrecision">l</text>
<text transform="matrix(1.0050 0 0 1.0000 658.74 720.00)" font-family="Liberation Sans" font-size="23.30" text-rendering="geometricPrecision">l</text>
<text transform="matrix(1.0245 0 0 1.0000 664.63 720.00)" font-family="Liberation Sans" font-size="23.30" text-rendering="geometricPrecision">o</text>
<text transform="matrix(0.9995 0 0 1.0000 678.78 720.00)" font-family="Liberation Sans" font-size="23.30" text-rendering="geometricPrecision">w</text>
<text transform="matrix(1.0327 0 0 1.0000 696.54 720.00)" font-family="Liberation Sans" font-size="23.30" text-rendering="geometricPrecision">e</text>
<text transform="matrix(1.0359 0 0 1.0000 710.29 720.00)" font-family="Liberation Sans" font-size="23.30" text-rendering="geometricPrecision">d</text>
<text transform="matrix(0.9461 0 0 1.0000 731.19 720.00)" font-family="Liberation Sans" font-size="23.30" text-rendering="geometricPrecision">a</text>
<text transform="matrix(1.0317 0 0 1.0000 745.40 720.00)" font-family="Liberation Sans" font-size="23.30" text-rendering="geometricPrecision">n</text>
<text transform="matrix(1.0359 0 0 1.0000 759.35 720.00)" font-family="Liberation Sans" font-size="23.30" text-rendering="geometricPrecision">d</text>
<text transform="matrix(1.1442 0 0 1.0000 780.84 720.00)" font-family="Liberation Sans" font-size="23.30" text-rendering="geometricPrecision">f</text>
<text transform="matrix(1.0245 0 0 1.0000 788.40 720.00)" font-family="Liberation Sans" font-size="23.30" text-rendering="geometricPrecision">o</text>
<text transform="matrix(1.1290 0 0 1.0000 802.42 720.00)" font-family="Liberation Sans" font-size="23.30" text-rendering="geometricPrecision">r</text>
<text transform="matrix(1.0364 0 0 1.0000 811.52 720.00)" font-family="Liberation Sans" font-size="23.30" text-rendering="geometricPrecision">b</text>
<text transform="matrix(1.0050 0 0 1.0000 825.69 720.00)" font-family="Liberation Sans" font-size="23.30" text-rendering="geometricPrecision">i</text>
<text transform="matrix(1.0359 0 0 1.0000 831.62 720.00)" font-family="Liberation Sans" font-size="23.30" text-rendering="geometricPrecision">d</text>
<text transform="matrix(1.0359 0 0 1.0000 845.78 720.00)" font-family="Liberation Sans" font-size="23.30" text-rendering="geometricPrecision">d</text>
<text transform="matrix(1.0327 0 0 1.0000 859.92 720.00)" font-family="Liberation Sans" font-size="23.30" text-rendering="geometricPrecision">e</text>
<text transform="matrix(1.0317 0 0 1.0000 873.85 720.00)" font-family="Liberation Sans" font-size="23.30" text-rendering="geometricPrecision">n</text>
<text transform="matrix(1.1290 0 0 1.0000 895.21 720.00)" font-family="Liberation Sans" font-size="23.30" text-rendering="geometricPrecision">r</text>
<text transform="matrix(1.0050 0 0 1.0000 904.33 720.00)" font-family="Liberation Sans" font-size="23.30" text-rendering="geometricPrecision">i</text>
<text transform="matrix(1.0359 0 0 1.0000 910.26 720.00)" font-family="Liberation Sans" font-size="23.30" text-rendering="geometricPrecision">g</text>
<text transform="matrix(1.0050 0 0 1.0000 924.69 720.00)" font-family="Liberation Sans" font-size="23.30" text-rendering="geometricPrecision">i</text>
<text transform="matrix(1.0359 0 0 1.0000 930.62 720.00)" font-family="Liberation Sans" font-size="23.30" text-rendering="geometricPrecision">d</text>
<text transform="matrix(1.0050 0 0 1.0000 945.04 720.00)" font-family="Liberation Sans" font-size="23.30" text-rendering="geometricPrecision">i</text>
<text transform="matrix(1.1554 0 0 1.0000 951.29 720.00)" font-family="Liberation Sans" font-size="23.30" text-rendering="geometricPrecision">t</text>
<text transform="matrix(1.0050 0 0 1.0000 959.99 720.00)" font-family="Liberation Sans" font-size="23.30" text-rendering="geometricPrecision">i</text>
<text transform="matrix(1.0327 0 0 1.0000 965.89 720.00)" font-family="Liberation Sans" font-size="23.30" text-rendering="geometricPrecision">e</text>
<text transform="matrix(0.9745 0 0 1.0000 979.69 720.00)" font-family="Liberation Sans" font-size="23.30" text-rendering="geometricPrecision">s</text>
<text transform="matrix(0.9203 0 0 1.0000 998.35 720.00)" font-family="Liberation Sans" font-size="23.30" text-rendering="geometricPrecision">(</text>
<text transform="matrix(1.0050 0 0 1.0000 1007.31 720.00)" font-family="Liberation Sans" font-size="23.30" text-rendering="geometricPrecision">l</text>
<text transform="matrix(1.0327 0 0 1.0000 1013.22 720.00)" font-family="Liberation Sans" font-size="23.30" text-rendering="geometricPrecision">e</text>
<text transform="matrix(1.1442 0 0 1.0000 1027.21 720.00)" font-family="Liberation Sans" font-size="23.30" text-rendering="geometricPrecision">f</text>
<text transform="matrix(1.1554 0 0 1.0000 1034.75 720.00)" font-family="Liberation Sans" font-size="23.30" text-rendering="geometricPrecision">t</text>
<text transform="matrix(1.0364 0 0 1.0000 1050.52 720.00)" font-family="Liberation Sans" font-size="23.30" text-rendering="geometricPrecision">p</text>
<text transform="matrix(0.9461 0 0 1.0000 1064.08 720.00)" font-family="Liberation Sans" font-size="23.30" text-rendering="geometricPrecision">a</text>
<text transform="matrix(1.0317 0 0 1.0000 1078.29 720.00)" font-family="Liberation Sans" font-size="23.30" text-rendering="geometricPrecision">n</text>
<text transform="matrix(1.0327 0 0 1.0000 1092.21 720.00)" font-family="Liberation Sans" font-size="23.30" text-rendering="geometricPrecision">e</text>
<text transform="matrix(1.0050 0 0 1.0000 1106.21 720.00)" font-family="Liberation Sans" font-size="23.30" text-rendering="geometricPrecision">l</text>
<text transform="matrix(0.9203 0 0 1.0000 1113.23 720.00)" font-family="Liberation Sans" font-size="23.30" text-rendering="geometricPrecision">)</text>
<text transform="matrix(1.0409 0 0 1.0000 437.58 752.00)" font-family="Liberation Sans" font-size="23.30" text-rendering="geometricPrecision">T</text>
<text transform="matrix(1.0385 0 0 1.0000 452.16 752.00)" font-family="Liberation Sans" font-size="23.30" text-rendering="geometricPrecision">h</text>
<text transform="matrix(1.0358 0 0 1.0000 466.16 752.00)" font-family="Liberation Sans" font-size="23.30" text-rendering="geometricPrecision">e</text>
<text transform="matrix(1.0081 0 0 1.0000 487.30 752.00)" font-family="Liberation Sans" font-size="23.30" text-rendering="geometricPrecision">i</text>
<text transform="matrix(1.0349 0 0 1.0000 493.41 752.00)" font-family="Liberation Sans" font-size="23.30" text-rendering="geometricPrecision">n</text>
<text transform="matrix(0.9990 0 0 1.0000 507.20 752.00)" font-family="Liberation Sans" font-size="23.30" text-rendering="geometricPrecision">c</text>
<text transform="matrix(1.0276 0 0 1.0000 519.60 752.00)" font-family="Liberation Sans" font-size="23.30" text-rendering="geometricPrecision">o</text>
<text transform="matrix(1.0642 0 0 1.0000 533.69 752.00)" font-family="Liberation Sans" font-size="23.30" text-rendering="geometricPrecision">m</text>
<text transform="matrix(1.0081 0 0 1.0000 555.34 752.00)" font-family="Liberation Sans" font-size="23.30" text-rendering="geometricPrecision">i</text>
<text transform="matrix(1.0349 0 0 1.0000 561.46 752.00)" font-family="Liberation Sans" font-size="23.30" text-rendering="geometricPrecision">n</text>
<text transform="matrix(1.0390 0 0 1.0000 575.42 752.00)" font-family="Liberation Sans" font-size="23.30" text-rendering="geometricPrecision">g</text>
<text transform="matrix(1.0390 0 0 1.0000 596.69 752.00)" font-family="Liberation Sans" font-size="23.30" text-rendering="geometricPrecision">d</text>
<text transform="matrix(1.0081 0 0 1.0000 611.14 752.00)" font-family="Liberation Sans" font-size="23.30" text-rendering="geometricPrecision">i</text>
<text transform="matrix(1.1322 0 0 1.0000 617.39 752.00)" font-family="Liberation Sans" font-size="23.30" text-rendering="geometricPrecision">r</text>
<text transform="matrix(1.0358 0 0 1.0000 625.73 752.00)" font-family="Liberation Sans" font-size="23.30" text-rendering="geometricPrecision">e</text>
<text transform="matrix(0.9990 0 0 1.0000 639.32 752.00)" font-family="Liberation Sans" font-size="23.30" text-rendering="geometricPrecision">c</text>
<text transform="matrix(1.1587 0 0 1.0000 652.10 752.00)" font-family="Liberation Sans" font-size="23.30" text-rendering="geometricPrecision">t</text>
<text transform="matrix(1.0081 0 0 1.0000 660.80 752.00)" font-family="Liberation Sans" font-size="23.30" text-rendering="geometricPrecision">i</text>
<text transform="matrix(1.0276 0 0 1.0000 666.68 752.00)" font-family="Liberation Sans" font-size="23.30" text-rendering="geometricPrecision">o</text>
<text transform="matrix(1.0349 0 0 1.0000 680.58 752.00)" font-family="Liberation Sans" font-size="23.30" text-rendering="geometricPrecision">n</text>
<text transform="matrix(1.0081 0 0 1.0000 701.92 752.00)" font-family="Liberation Sans" font-size="23.30" text-rendering="geometricPrecision">i</text>
<text transform="matrix(0.9776 0 0 1.0000 707.89 752.00)" font-family="Liberation Sans" font-size="23.30" text-rendering="geometricPrecision">s</text>
<text transform="matrix(0.9776 0 0 1.0000 726.62 752.00)" font-family="Liberation Sans" font-size="23.30" text-rendering="geometricPrecision">s</text>
<text transform="matrix(1.0081 0 0 1.0000 738.48 752.00)" font-family="Liberation Sans" font-size="23.30" text-rendering="geometricPrecision">i</text>
<text transform="matrix(1.0390 0 0 1.0000 744.41 752.00)" font-family="Liberation Sans" font-size="23.30" text-rendering="geometricPrecision">g</text>
<text transform="matrix(1.0349 0 0 1.0000 758.78 752.00)" font-family="Liberation Sans" font-size="23.30" text-rendering="geometricPrecision">n</text>
<text transform="matrix(1.0358 0 0 1.0000 772.71 752.00)" font-family="Liberation Sans" font-size="23.30" text-rendering="geometricPrecision">e</text>
<text transform="matrix(1.0390 0 0 1.0000 786.47 752.00)" font-family="Liberation Sans" font-size="23.30" text-rendering="geometricPrecision">d</text>
<text transform="matrix(1.0396 0 0 1.0000 808.00 752.00)" font-family="Liberation Sans" font-size="23.30" text-rendering="geometricPrecision">b</text>
<text transform="matrix(1.0328 0 0 1.0000 822.28 752.00)" font-family="Liberation Sans" font-size="23.30" text-rendering="geometricPrecision">y</text>
<text transform="matrix(1.1587 0 0 1.0000 842.56 752.00)" font-family="Liberation Sans" font-size="23.30" text-rendering="geometricPrecision">t</text>
<text transform="matrix(1.0385 0 0 1.0000 851.12 752.00)" font-family="Liberation Sans" font-size="23.30" text-rendering="geometricPrecision">h</text>
<text transform="matrix(1.0358 0 0 1.0000 865.11 752.00)" font-family="Liberation Sans" font-size="23.30" text-rendering="geometricPrecision">e</text>
<text transform="matrix(1.1322 0 0 1.0000 886.30 752.00)" font-family="Liberation Sans" font-size="23.30" text-rendering="geometricPrecision">r</text>
<text transform="matrix(1.0358 0 0 1.0000 894.64 752.00)" font-family="Liberation Sans" font-size="23.30" text-rendering="geometricPrecision">e</text>
<text transform="matrix(1.0390 0 0 1.0000 908.40 752.00)" font-family="Liberation Sans" font-size="23.30" text-rendering="geometricPrecision">d</text>
<text transform="matrix(1.0396 0 0 1.0000 929.93 752.00)" font-family="Liberation Sans" font-size="23.30" text-rendering="geometricPrecision">p</text>
<text transform="matrix(1.0276 0 0 1.0000 943.79 752.00)" font-family="Liberation Sans" font-size="23.30" text-rendering="geometricPrecision">o</text>
<text transform="matrix(1.0081 0 0 1.0000 957.78 752.00)" font-family="Liberation Sans" font-size="23.30" text-rendering="geometricPrecision">i</text>
<text transform="matrix(1.0349 0 0 1.0000 963.90 752.00)" font-family="Liberation Sans" font-size="23.30" text-rendering="geometricPrecision">n</text>
<text transform="matrix(1.1587 0 0 1.0000 978.19 752.00)" font-family="Liberation Sans" font-size="23.30" text-rendering="geometricPrecision">t</text>
<text transform="matrix(0.9233 0 0 1.0000 993.72 752.00)" font-family="Liberation Sans" font-size="23.30" text-rendering="geometricPrecision">(</text>
<text transform="matrix(1.1322 0 0 1.0000 1002.75 752.00)" font-family="Liberation Sans" font-size="23.30" text-rendering="geometricPrecision">r</text>
<text transform="matrix(1.0081 0 0 1.0000 1011.88 752.00)" font-family="Liberation Sans" font-size="23.30" text-rendering="geometricPrecision">i</text>
<text transform="matrix(1.0390 0 0 1.0000 1017.81 752.00)" font-family="Liberation Sans" font-size="23.30" text-rendering="geometricPrecision">g</text>
<text transform="matrix(1.1587 0 0 1.0000 1032.31 752.00)" font-family="Liberation Sans" font-size="23.30" text-rendering="geometricPrecision">t</text>
<text transform="matrix(1.0385 0 0 1.0000 1040.87 752.00)" font-family="Liberation Sans" font-size="23.30" text-rendering="geometricPrecision">h</text>
<text transform="matrix(1.0396 0 0 1.0000 1062.24 752.00)" font-family="Liberation Sans" font-size="23.30" text-rendering="geometricPrecision">p</text>
<text transform="matrix(0.9491 0 0 1.0000 1075.81 752.00)" font-family="Liberation Sans" font-size="23.30" text-rendering="geometricPrecision">a</text>
<text transform="matrix(1.0349 0 0 1.0000 1090.03 752.00)" font-family="Liberation Sans" font-size="23.30" text-rendering="geometricPrecision">n</text>
<text transform="matrix(1.0358 0 0 1.0000 1103.97 752.00)" font-family="Liberation Sans" font-size="23.30" text-rendering="geometricPrecision">e</text>
<text transform="matrix(1.0081 0 0 1.0000 1118.00 752.00)" font-family="Liberation Sans" font-size="23.30" text-rendering="geometricPrecision">l</text>
<text transform="matrix(0.9233 0 0 1.0000 1125.02 752.00)" font-family="Liberation Sans" font-size="23.30" text-rendering="geometricPrecision">)</text>
<text transform="matrix(0.9727 0 0 1.0000 775.29 784.00)" font-family="Liberation Sans" font-size="14.72">I</text>
<text transform="matrix(0.8828 0 0 1.0000 779.35 784.00)" font-family="Liberation Sans" font-size="14.72">E</text>
<text transform="matrix(0.8912 0 0 1.0000 788.14 784.00)" font-family="Liberation Sans" font-size="14.72">P</text>
<text transform="matrix(0.8945 0 0 1.0000 800.92 784.00)" font-family="Liberation Sans" font-size="14.72">S</text>
<text transform="matrix(0.9490 0 0 1.0000 809.97 784.00)" font-family="Liberation Sans" font-size="14.72">A</text>
<text transform="matrix(0.8945 0 0 1.0000 819.46 784.00)" font-family="Liberation Sans" font-size="14.72">S</text>
</g>
</svg></body></html>
